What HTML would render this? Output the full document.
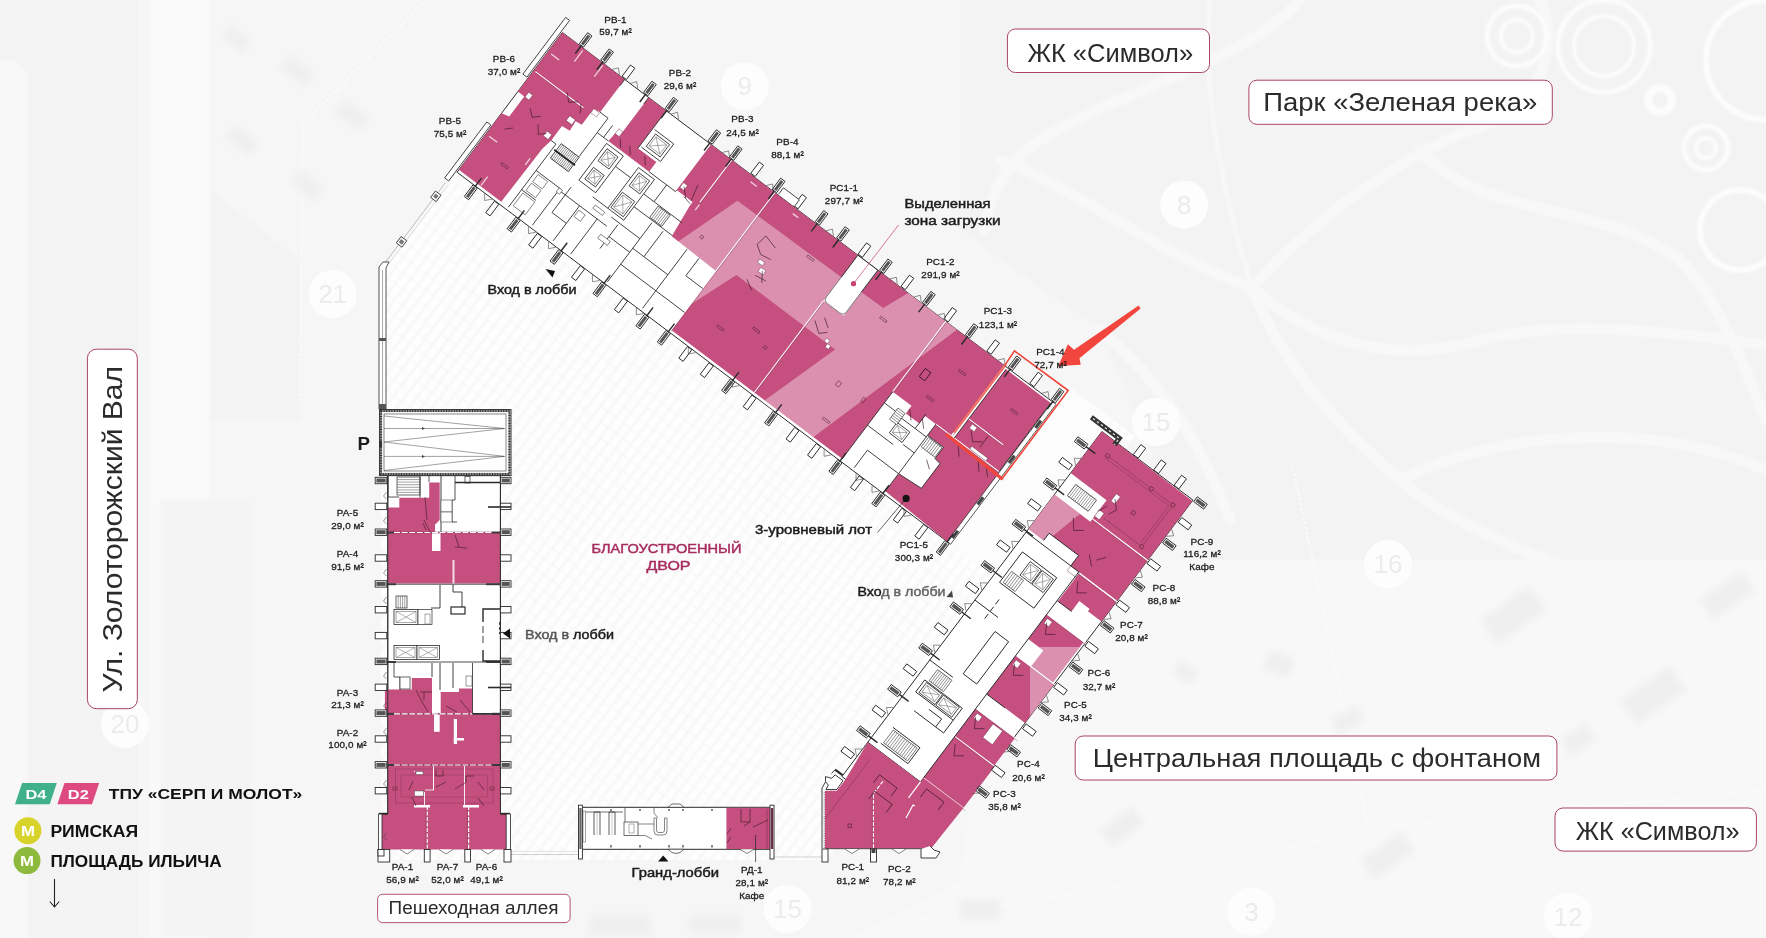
<!DOCTYPE html>
<html lang="ru"><head><meta charset="utf-8"><title>План</title>
<style>
html,body{margin:0;padding:0;background:#f5f5f5;}
body{width:1766px;height:938px;overflow:hidden;font-family:"Liberation Sans",sans-serif;}
svg{display:block}
text{font-family:"Liberation Sans",sans-serif;}
.u{font-size:9.9px;letter-spacing:0.1px;font-weight:400;fill:#1d1d1d;stroke:#1d1d1d;stroke-width:0.3px;text-anchor:middle}
.m{font-size:12.8px;font-weight:400;fill:#1c1c1c;stroke:#1c1c1c;stroke-width:0.45px}
.big{font-size:25.5px;fill:#2b2b2b}
</style></head><body>
<svg width="1766" height="938" viewBox="0 0 1766 938">
<defs>
<pattern id="hatch" width="13" height="13" patternUnits="userSpaceOnUse" patternTransform="rotate(37)"><rect width="13" height="13" fill="#fefefe"/><rect y="0" width="13" height="3" fill="#fbfbfb"/></pattern>
<pattern id="hatch2" width="9.5" height="9.5" patternUnits="userSpaceOnUse" patternTransform="rotate(-53)"><rect y="0" width="9.5" height="3.5" fill="#f8f8f8" fill-opacity="0.8"/></pattern>
<filter id="bl" x="-20%" y="-20%" width="140%" height="140%"><feGaussianBlur stdDeviation="3"/></filter>
<filter id="bl2" x="-20%" y="-20%" width="140%" height="140%"><feGaussianBlur stdDeviation="1.2"/></filter>
<clipPath id="c3"><rect x="1030" y="647" width="200" height="200"/></clipPath>
</defs>
<rect x="0.0" y="0.0" width="1766.0" height="938.0" fill="#f5f5f5" stroke="none" stroke-width="0" />
<rect x="0.0" y="0.0" width="138.0" height="938.0" fill="#f3f3f3" stroke="none" stroke-width="0" />
<rect x="138.0" y="0.0" width="1628.0" height="938.0" fill="#f6f6f6" stroke="none" stroke-width="0" />
<g filter="url(#bl2)">
<rect x="-20" y="60" width="48" height="900" rx="22" fill="#f8f8f8"/>
<rect x="42" y="-20" width="70" height="980" fill="#f4f4f4"/>
<rect x="150" y="-20" width="60" height="980" fill="#f9f9f9"/>
<polygon points="210.0,190.0 300.0,260.0 300.0,420.0 210.0,420.0" fill="#f3f3f3" stroke="none" stroke-width="0" />
<polygon points="160.0,500.0 250.0,500.0 250.0,938.0 160.0,938.0" fill="#f4f4f4" stroke="none" stroke-width="0" />
<polygon points="960.0,0.0 1766.0,0.0 1766.0,700.0 1300.0,700.0 1180.0,520.0 1100.0,330.0 960.0,230.0" fill="#f3f3f3" stroke="none" stroke-width="0" />
<polygon points="1000.0,560.0 1766.0,560.0 1766.0,938.0 850.0,938.0 960.0,880.0" fill="#f8f8f8" stroke="none" stroke-width="0" />
</g>
<g fill="none" stroke="#f8f8f8" stroke-linecap="round" filter="url(#bl2)">
<path d="M1000,160 C1080,190 1150,250 1252,288" stroke-width="11"/>
<path d="M1252,288 C1330,200 1430,140 1500,120 C1540,100 1560,40 1540,0" stroke-width="11"/>
<path d="M1252,288 C1300,330 1380,370 1480,340 C1560,320 1660,330 1766,345" stroke-width="11"/>
<path d="M1252,288 C1280,360 1330,420 1400,480 C1470,540 1560,560 1640,600" stroke-width="11"/>
<path d="M1300,0 C1250,60 1120,90 1040,140 C1010,160 990,190 985,230" stroke-width="11"/>
<path d="M1210,0 C1200,90 1225,200 1252,288" stroke-width="5" stroke-dasharray="1 4"/>
<path d="M1420,150 C1480,220 1600,200 1680,260 C1720,300 1750,380 1766,420" stroke-width="11"/>
<path d="M1400,480 C1500,430 1650,420 1766,470" stroke-width="11"/>
<path d="M1100,330 C1160,380 1200,440 1230,520" stroke-width="11"/>
</g>
<g fill="none" stroke="#fbfbfb" stroke-width="2.2" stroke-dasharray="1 4" stroke-linecap="round">
<path d="M1293,469 L1330,640 L1368,829 L1500,815 L1766,790"/>
<path d="M1368,829 L1100,890 L883,925"/>
<path d="M426,0 L303,124 L300,400"/>
</g>
<g fill="none" stroke="#fcfcfc" filter="url(#bl2)">
<circle cx="1517" cy="36" r="30" stroke-width="5"/>
<circle cx="1517" cy="36" r="16" stroke-width="4"/>
<circle cx="1604" cy="46" r="46" stroke-width="5"/>
<circle cx="1604" cy="46" r="30" stroke-width="4"/>
<circle cx="1706" cy="148" r="22" stroke-width="5"/>
<circle cx="1706" cy="148" r="10" stroke-width="4"/>
<circle cx="1740" cy="230" r="40" stroke-width="6"/>
<circle cx="1660" cy="100" r="12" stroke-width="8"/>
<circle cx="1766" cy="60" r="60" stroke-width="6"/>
</g>
<g fill="#efefef" filter="url(#bl)">
<rect x="230" y="25" width="26" height="14" transform="rotate(37 230 25)"/>
<rect x="290" y="55" width="30" height="16" transform="rotate(37 290 55)"/>
<rect x="345" y="100" width="30" height="16" transform="rotate(37 345 100)"/>
<rect x="235" y="125" width="30" height="16" transform="rotate(37 235 125)"/>
<rect x="300" y="170" width="30" height="16" transform="rotate(37 300 170)"/>
<rect x="1270" y="650" width="26" height="20" transform="rotate(20 1270 650)"/>
<rect x="1330" y="720" width="30" height="18" transform="rotate(-30 1330 720)"/>
<rect x="1180" y="660" width="22" height="16" transform="rotate(30 1180 660)"/>
<rect x="1480" y="620" width="60" height="30" transform="rotate(-35 1480 620)"/>
<rect x="1620" y="700" width="60" height="30" transform="rotate(-35 1620 700)"/>
<rect x="1360" y="860" width="50" height="24" transform="rotate(-35 1360 860)"/>
<rect x="1100" y="830" width="40" height="20" transform="rotate(-35 1100 830)"/>
<rect x="960" y="900" width="40" height="20" transform="rotate(0 960 900)"/>
<rect x="1560" y="740" width="30" height="20" transform="rotate(-35 1560 740)"/>
<rect x="1700" y="600" width="50" height="24" transform="rotate(-35 1700 600)"/>
<rect x="590" y="915" width="60" height="20" transform="rotate(0 590 915)"/>
<rect x="690" y="915" width="50" height="18" transform="rotate(0 690 915)"/>
</g>
<circle cx="744.7" cy="86.2" r="24" fill="#fdfdfd"/>
<text x="744.7" y="95.2" text-anchor="middle" style="font-size:26px;fill:#ececec">9</text>
<circle cx="1184.2" cy="204.7" r="24" fill="#fdfdfd"/>
<text x="1184.2" y="213.7" text-anchor="middle" style="font-size:26px;fill:#ececec">8</text>
<circle cx="332.6" cy="294.2" r="24" fill="#fdfdfd"/>
<text x="332.6" y="303.2" text-anchor="middle" style="font-size:26px;fill:#ececec">21</text>
<circle cx="1156.0" cy="422.0" r="24" fill="#fdfdfd"/>
<text x="1156.0" y="431.0" text-anchor="middle" style="font-size:26px;fill:#ececec">15</text>
<circle cx="1388.0" cy="564.0" r="24" fill="#fdfdfd"/>
<text x="1388.0" y="573.0" text-anchor="middle" style="font-size:26px;fill:#ececec">16</text>
<circle cx="125.0" cy="724.0" r="24" fill="#fdfdfd"/>
<text x="125.0" y="733.0" text-anchor="middle" style="font-size:26px;fill:#ececec">20</text>
<circle cx="787.5" cy="909.0" r="24" fill="#fdfdfd"/>
<text x="787.5" y="918.0" text-anchor="middle" style="font-size:26px;fill:#ececec">15</text>
<circle cx="1251.5" cy="911.5" r="24" fill="#fdfdfd"/>
<text x="1251.5" y="920.5" text-anchor="middle" style="font-size:26px;fill:#ececec">3</text>
<circle cx="1568.0" cy="916.5" r="24" fill="#fdfdfd"/>
<text x="1568.0" y="925.5" text-anchor="middle" style="font-size:26px;fill:#ececec">12</text>
<polygon points="454.1,171.3 384.3,263.9 381.0,270.0 381.0,860.0 828.0,860.0 856.6,805.2 1134.7,436.2 1064.4,383.2 1015.1,448.7 526.3,80.4" fill="url(#hatch)" stroke="none" stroke-width="0" />
<polygon points="454.1,171.3 384.3,263.9 381.0,270.0 381.0,860.0 828.0,860.0 856.6,805.2 1134.7,436.2 1064.4,383.2 1015.1,448.7 526.3,80.4" fill="url(#hatch2)" stroke="none" stroke-width="0" />
<polygon points="1066.8,385.0 1111.5,418.7 992.4,576.9 947.6,543.2" fill="#fcfcfc" stroke="none" stroke-width="0" />
<g transform="translate(562.4,32.5) rotate(37)">
<line x1="-3.0" y1="190.0" x2="-3.0" y2="292.0" stroke="#999" stroke-width="0.6" />
<line x1="0.5" y1="190.0" x2="0.5" y2="288.0" stroke="#bbb" stroke-width="0.5" />
<rect x="-6.0" y="203.0" width="7.0" height="8.0" fill="#fff" stroke="#2a2a2a" stroke-width="0.8" />
<rect x="-4.5" y="205.0" width="4.0" height="4.0" fill="#777" stroke="none" stroke-width="0" />
<rect x="-6.0" y="260.0" width="7.0" height="8.0" fill="#fff" stroke="#2a2a2a" stroke-width="0.8" />
<rect x="-4.5" y="262.0" width="4.0" height="4.0" fill="#777" stroke="none" stroke-width="0" />
</g>
<polygon points="379.0,267.0 383.0,262.0 389.0,262.0 386.0,268.0 386.0,409.0 379.0,409.0" fill="#fff" stroke="#2a2a2a" stroke-width="0.8" />
<line x1="382.5" y1="270.0" x2="382.5" y2="409.0" stroke="#555" stroke-width="0.5" />
<rect x="379.0" y="338.0" width="7.0" height="3.0" fill="#555" stroke="none" stroke-width="0" />
<rect x="379.0" y="404.0" width="7.0" height="5.0" fill="#555" stroke="none" stroke-width="0" />
<line x1="511.0" y1="854.5" x2="578.0" y2="854.5" stroke="#cfcfcf" stroke-width="1.2" />
<line x1="774.0" y1="857.0" x2="824.0" y2="857.0" stroke="#cfcfcf" stroke-width="1.2" />
<line x1="511.0" y1="851.5" x2="578.0" y2="851.5" stroke="#e4e4e4" stroke-width="1" />
<rect x="379.5" y="409.5" width="131.5" height="66.0" fill="#fff" stroke="#333" stroke-width="1" />
<rect x="381.0" y="411.0" width="128.5" height="63.0" fill="none" stroke="#8a8a8a" stroke-width="2.2" />
<rect x="381.0" y="411.0" width="128.5" height="63.0" fill="none" stroke="#333" stroke-width="2.2" stroke-dasharray="1 1.6"/>
<rect x="384.0" y="414.0" width="122.0" height="57.0" fill="#fff" stroke="#333" stroke-width="0.6" />
<polyline points="384.0,416.0 504.5,428.5 384.0,442.0 504.5,456.4 384.0,470.5" fill="none" stroke="#444" stroke-width="0.5" />
<line x1="384.0" y1="428.5" x2="504.5" y2="428.5" stroke="#444" stroke-width="0.5" />
<line x1="384.0" y1="456.4" x2="504.5" y2="456.4" stroke="#444" stroke-width="0.5" />
<polygon points="422.0,427.0 425.0,428.5 422.0,430.0" fill="#444" stroke="none" stroke-width="0" />
<polygon points="422.0,455.0 425.0,456.4 422.0,458.0" fill="#444" stroke="none" stroke-width="0" />
<rect x="379.0" y="441.0" width="3.0" height="6.0" fill="#333" stroke="none" stroke-width="0" />
<rect x="387.8" y="475.7" width="112.6" height="338.1" fill="#fff" stroke="#2a2a2a" stroke-width="0.9" />
<polygon points="399.3,497.8 429.2,497.8 429.2,482.4 439.7,482.4 439.7,520.0 435.0,524.8 435.0,532.5 387.8,532.5 387.8,507.4 399.3,507.4" fill="#c5507f" stroke="none" stroke-width="0" />
<polygon points="387.8,532.5 500.4,532.5 500.4,583.5 387.8,583.5" fill="#c5507f" stroke="none" stroke-width="0" />
<polygon points="384.9,689.5 411.8,689.5 411.8,677.9 432.0,677.9 432.0,713.5 384.9,713.5" fill="#c5507f" stroke="none" stroke-width="0" />
<polygon points="440.7,692.0 459.0,692.0 459.0,688.5 472.5,688.5 472.5,713.5 440.7,713.5" fill="#c5507f" stroke="none" stroke-width="0" />
<polygon points="387.8,713.5 500.4,713.5 500.4,813.8 506.2,813.8 506.2,849.5 382.0,849.5 382.0,813.8 387.8,813.8" fill="#c5507f" stroke="none" stroke-width="0" />
<rect x="432.0" y="533.0" width="8.5" height="18.0" fill="#fff" stroke="none" stroke-width="0" />
<rect x="434.0" y="694.0" width="5.7" height="37.8" fill="#fff" stroke="none" stroke-width="0" />
<rect x="453.8" y="719.0" width="3.2" height="25.0" fill="#fff" stroke="none" stroke-width="0" />
<rect x="452.5" y="560.0" width="2.0" height="26.0" fill="#f3dbe5" stroke="none" stroke-width="0" />
<rect x="453.8" y="738.0" width="10.2" height="2.5" fill="#fff" stroke="none" stroke-width="0" />
<line x1="375.0" y1="532.5" x2="394.0" y2="532.5" stroke="#3a3a3a" stroke-width="2.0" />
<line x1="492.0" y1="532.5" x2="511.0" y2="532.5" stroke="#3a3a3a" stroke-width="2.0" />
<line x1="394.0" y1="532.5" x2="492.0" y2="532.5" stroke="#8c3458" stroke-width="1.6" />
<line x1="394" y1="532.5" x2="492" y2="532.5" stroke="#fff" stroke-width="1.2" stroke-dasharray="6 1.6"/>
<line x1="375.0" y1="584.2" x2="396.0" y2="584.2" stroke="#3a3a3a" stroke-width="2.0" />
<line x1="486.0" y1="584.2" x2="511.0" y2="584.2" stroke="#3a3a3a" stroke-width="2.0" />
<line x1="396.0" y1="584.2" x2="486.0" y2="584.2" stroke="#3a3a3a" stroke-width="0.9" />
<line x1="375.0" y1="662.0" x2="396.0" y2="662.0" stroke="#3a3a3a" stroke-width="2.0" />
<line x1="486.0" y1="662.0" x2="511.0" y2="662.0" stroke="#3a3a3a" stroke-width="2.0" />
<line x1="396.0" y1="662.0" x2="486.0" y2="662.0" stroke="#3a3a3a" stroke-width="0.9" />
<line x1="375.0" y1="713.8" x2="394.0" y2="713.8" stroke="#3a3a3a" stroke-width="2.0" />
<line x1="492.0" y1="713.8" x2="511.0" y2="713.8" stroke="#3a3a3a" stroke-width="2.0" />
<line x1="394.0" y1="713.8" x2="492.0" y2="713.8" stroke="#8c3458" stroke-width="1.6" />
<line x1="394" y1="713.8" x2="492" y2="713.8" stroke="#fff" stroke-width="1.2" stroke-dasharray="6 1.6"/>
<line x1="375.0" y1="765.0" x2="394.0" y2="765.0" stroke="#3a3a3a" stroke-width="2.0" />
<line x1="492.0" y1="765.0" x2="511.0" y2="765.0" stroke="#3a3a3a" stroke-width="2.0" />
<line x1="394.0" y1="765.0" x2="492.0" y2="765.0" stroke="#8c3458" stroke-width="1.6" />
<line x1="394" y1="765.0" x2="492" y2="765.0" stroke="#fff" stroke-width="1.2" stroke-dasharray="6 1.6"/>
<line x1="472.5" y1="713.8" x2="500.0" y2="713.8" stroke="#3a3a3a" stroke-width="1.6" />
<line x1="387.8" y1="475.7" x2="387.8" y2="813.8" stroke="#2a2a2a" stroke-width="0.9" />
<line x1="500.4" y1="475.7" x2="500.4" y2="813.8" stroke="#2a2a2a" stroke-width="0.9" />
<rect x="375.2" y="477.3" width="11.6" height="6.4" fill="#fff" stroke="#2a2a2a" stroke-width="0.9" />
<rect x="376.4" y="478.5" width="9.2" height="4.0" fill="#555" stroke="none" stroke-width="0" />
<rect x="500.4" y="477.3" width="10.6" height="6.4" fill="#fff" stroke="#2a2a2a" stroke-width="0.9" />
<rect x="501.6" y="478.5" width="8.2" height="4.0" fill="#555" stroke="none" stroke-width="0" />
<rect x="375.2" y="503.2" width="11.6" height="6.4" fill="#fff" stroke="#2a2a2a" stroke-width="0.9" />
<rect x="500.4" y="503.2" width="10.6" height="6.4" fill="#fff" stroke="#2a2a2a" stroke-width="0.9" />
<rect x="375.2" y="529.0" width="11.6" height="6.4" fill="#fff" stroke="#2a2a2a" stroke-width="0.9" />
<rect x="376.4" y="530.2" width="9.2" height="4.0" fill="#555" stroke="none" stroke-width="0" />
<rect x="500.4" y="529.0" width="10.6" height="6.4" fill="#fff" stroke="#2a2a2a" stroke-width="0.9" />
<rect x="501.6" y="530.2" width="8.2" height="4.0" fill="#555" stroke="none" stroke-width="0" />
<rect x="375.2" y="554.8" width="11.6" height="6.4" fill="#fff" stroke="#2a2a2a" stroke-width="0.9" />
<rect x="500.4" y="554.8" width="10.6" height="6.4" fill="#fff" stroke="#2a2a2a" stroke-width="0.9" />
<rect x="375.2" y="580.7" width="11.6" height="6.4" fill="#fff" stroke="#2a2a2a" stroke-width="0.9" />
<rect x="376.4" y="581.9" width="9.2" height="4.0" fill="#555" stroke="none" stroke-width="0" />
<rect x="500.4" y="580.7" width="10.6" height="6.4" fill="#fff" stroke="#2a2a2a" stroke-width="0.9" />
<rect x="501.6" y="581.9" width="8.2" height="4.0" fill="#555" stroke="none" stroke-width="0" />
<rect x="375.2" y="606.5" width="11.6" height="6.4" fill="#fff" stroke="#2a2a2a" stroke-width="0.9" />
<rect x="500.4" y="606.5" width="10.6" height="6.4" fill="#fff" stroke="#2a2a2a" stroke-width="0.9" />
<rect x="375.2" y="632.4" width="11.6" height="6.4" fill="#fff" stroke="#2a2a2a" stroke-width="0.9" />
<rect x="500.4" y="632.4" width="10.6" height="6.4" fill="#fff" stroke="#2a2a2a" stroke-width="0.9" />
<rect x="375.2" y="658.2" width="11.6" height="6.4" fill="#fff" stroke="#2a2a2a" stroke-width="0.9" />
<rect x="376.4" y="659.5" width="9.2" height="4.0" fill="#555" stroke="none" stroke-width="0" />
<rect x="500.4" y="658.2" width="10.6" height="6.4" fill="#fff" stroke="#2a2a2a" stroke-width="0.9" />
<rect x="501.6" y="659.5" width="8.2" height="4.0" fill="#555" stroke="none" stroke-width="0" />
<rect x="375.2" y="684.1" width="11.6" height="6.4" fill="#fff" stroke="#2a2a2a" stroke-width="0.9" />
<rect x="500.4" y="684.1" width="10.6" height="6.4" fill="#fff" stroke="#2a2a2a" stroke-width="0.9" />
<rect x="375.2" y="709.9" width="11.6" height="6.4" fill="#fff" stroke="#2a2a2a" stroke-width="0.9" />
<rect x="376.4" y="711.1" width="9.2" height="4.0" fill="#555" stroke="none" stroke-width="0" />
<rect x="500.4" y="709.9" width="10.6" height="6.4" fill="#fff" stroke="#2a2a2a" stroke-width="0.9" />
<rect x="501.6" y="711.1" width="8.2" height="4.0" fill="#555" stroke="none" stroke-width="0" />
<rect x="375.2" y="735.8" width="11.6" height="6.4" fill="#fff" stroke="#2a2a2a" stroke-width="0.9" />
<rect x="500.4" y="735.8" width="10.6" height="6.4" fill="#fff" stroke="#2a2a2a" stroke-width="0.9" />
<rect x="375.2" y="761.6" width="11.6" height="6.4" fill="#fff" stroke="#2a2a2a" stroke-width="0.9" />
<rect x="376.4" y="762.9" width="9.2" height="4.0" fill="#555" stroke="none" stroke-width="0" />
<rect x="500.4" y="761.6" width="10.6" height="6.4" fill="#fff" stroke="#2a2a2a" stroke-width="0.9" />
<rect x="501.6" y="762.9" width="8.2" height="4.0" fill="#555" stroke="none" stroke-width="0" />
<rect x="375.2" y="787.5" width="11.6" height="6.4" fill="#fff" stroke="#2a2a2a" stroke-width="0.9" />
<rect x="500.4" y="787.5" width="10.6" height="6.4" fill="#fff" stroke="#2a2a2a" stroke-width="0.9" />
<polyline points="379.0,813.8 387.8,813.8" fill="none" stroke="#2a2a2a" stroke-width="2" />
<polyline points="500.4,813.8 510.0,813.8" fill="none" stroke="#2a2a2a" stroke-width="2" />
<rect x="378.5" y="814.0" width="3.5" height="37.0" fill="#fff" stroke="#2a2a2a" stroke-width="0.8" />
<rect x="506.2" y="814.0" width="4.3" height="37.0" fill="#fff" stroke="#2a2a2a" stroke-width="0.8" />
<rect x="378.0" y="849.5" width="11.7" height="12.5" fill="#fff" stroke="#2a2a2a" stroke-width="0.9" />
<rect x="424.3" y="849.5" width="5.8" height="12.5" fill="#fff" stroke="#2a2a2a" stroke-width="0.9" />
<rect x="464.8" y="849.5" width="5.7" height="12.5" fill="#fff" stroke="#2a2a2a" stroke-width="0.9" />
<rect x="504.0" y="849.5" width="7.0" height="12.5" fill="#fff" stroke="#2a2a2a" stroke-width="0.9" />
<rect x="378.0" y="849.5" width="6.0" height="6.5" fill="#fff" stroke="#2a2a2a" stroke-width="0.9" />
<line x1="427.2" y1="806.0" x2="427.2" y2="849.0" stroke="#fff" stroke-width="1.2" stroke-dasharray="4 1.5"/>
<line x1="426.0" y1="806.0" x2="426.0" y2="849.0" stroke="#7a2f4f" stroke-width="0.4" />
<line x1="468.6" y1="806.0" x2="468.6" y2="849.0" stroke="#fff" stroke-width="1.2" stroke-dasharray="4 1.5"/>
<line x1="467.4" y1="806.0" x2="467.4" y2="849.0" stroke="#7a2f4f" stroke-width="0.4" />
<rect x="414.0" y="805.0" width="16.0" height="2.5" fill="#fff" stroke="none" stroke-width="0" />
<rect x="463.0" y="805.0" width="16.0" height="2.5" fill="#fff" stroke="none" stroke-width="0" />
<rect x="414.0" y="771.0" width="1.0" height="1.0" fill="#fff" stroke="none" stroke-width="0" />
<rect x="395.5" y="769.0" width="97.5" height="34.0" fill="none" stroke="#8c3458" stroke-width="0.5" />
<rect x="401.0" y="775.0" width="86.5" height="22.0" fill="none" stroke="#8c3458" stroke-width="0.4" />
<rect x="414.5" y="791.0" width="9.0" height="5.0" fill="#fff" stroke="#555" stroke-width="0.5" />
<rect x="416.0" y="771.5" width="7.0" height="3.0" fill="#fff" stroke="#555" stroke-width="0.5" />
<line x1="433.5" y1="766.0" x2="433.5" y2="790.0" stroke="#fff" stroke-width="1.0" />
<line x1="425.0" y1="790.0" x2="433.5" y2="790.0" stroke="#fff" stroke-width="0.8" />
<line x1="424.5" y1="792.0" x2="424.5" y2="806.0" stroke="#fff" stroke-width="0.9" />
<line x1="464.5" y1="766.0" x2="464.5" y2="806.0" stroke="#fff" stroke-width="0.9" />
<polyline points="400.0,849.5 407.0,854.0 414.0,849.5" fill="#fff" stroke="#333" stroke-width="0.6" />
<polyline points="439.0,849.5 446.0,854.0 453.0,849.5" fill="#fff" stroke="#333" stroke-width="0.6" />
<polyline points="481.0,849.5 488.0,854.0 495.0,849.5" fill="#fff" stroke="#333" stroke-width="0.6" />
<rect x="394.0" y="609.5" width="24.0" height="15.0" fill="#fff" stroke="#2a2a2a" stroke-width="0.8" />
<rect x="396.0" y="611.5" width="20.0" height="11.0" fill="#fff" stroke="#555" stroke-width="0.5" />
<line x1="396.0" y1="611.5" x2="416.0" y2="622.5" stroke="#666" stroke-width="0.5" />
<line x1="396.0" y1="622.5" x2="416.0" y2="611.5" stroke="#666" stroke-width="0.5" />
<rect x="418.0" y="609.5" width="14.0" height="15.0" fill="#fff" stroke="#2a2a2a" stroke-width="0.7" />
<rect x="425.0" y="614.0" width="5.0" height="10.0" fill="none" stroke="#555" stroke-width="0.5" />
<rect x="396.0" y="596.0" width="11.0" height="12.0" fill="#fff" stroke="#2a2a2a" stroke-width="0.7" />
<line x1="398.2" y1="596.0" x2="398.2" y2="608.0" stroke="#444" stroke-width="0.5" />
<line x1="400.4" y1="596.0" x2="400.4" y2="608.0" stroke="#444" stroke-width="0.5" />
<line x1="402.6" y1="596.0" x2="402.6" y2="608.0" stroke="#444" stroke-width="0.5" />
<line x1="404.8" y1="596.0" x2="404.8" y2="608.0" stroke="#444" stroke-width="0.5" />
<polyline points="440.0,585.0 440.0,608.0 431.0,608.0" fill="none" stroke="#2a2a2a" stroke-width="0.9" />
<polyline points="453.0,585.0 453.0,592.0 462.0,592.0 462.0,608.0" fill="none" stroke="#2a2a2a" stroke-width="0.9" />
<rect x="451.0" y="607.0" width="14.0" height="7.0" fill="#fff" stroke="#2a2a2a" stroke-width="1.2" />
<polyline points="500.0,609.0 483.0,609.0 483.0,622.0" fill="none" stroke="#2a2a2a" stroke-width="1.4" />
<polyline points="483.0,650.0 483.0,661.0 500.0,661.0" fill="none" stroke="#2a2a2a" stroke-width="1.4" />
<line x1="483.0" y1="626.0" x2="483.0" y2="646.0" stroke="#2a2a2a" stroke-width="0.9" stroke-dasharray="7 3"/>
<line x1="499.5" y1="622.0" x2="499.5" y2="634.0" stroke="#2a2a2a" stroke-width="0.8" stroke-dasharray="3 2"/>
<rect x="394.0" y="645.5" width="23.0" height="14.0" fill="#fff" stroke="#2a2a2a" stroke-width="0.8" />
<rect x="396.0" y="647.5" width="19.0" height="10.0" fill="#fff" stroke="#555" stroke-width="0.5" />
<line x1="396.0" y1="647.5" x2="415.0" y2="657.5" stroke="#666" stroke-width="0.5" />
<line x1="396.0" y1="657.5" x2="415.0" y2="647.5" stroke="#666" stroke-width="0.5" />
<rect x="417.0" y="645.5" width="22.5" height="14.0" fill="#fff" stroke="#2a2a2a" stroke-width="0.8" />
<rect x="419.0" y="647.5" width="18.5" height="10.0" fill="#fff" stroke="#555" stroke-width="0.5" />
<line x1="419.0" y1="647.5" x2="437.5" y2="657.5" stroke="#666" stroke-width="0.5" />
<line x1="419.0" y1="657.5" x2="437.5" y2="647.5" stroke="#666" stroke-width="0.5" />
<polyline points="394.0,662.0 394.0,677.0 400.0,677.0 400.0,690.0" fill="none" stroke="#2a2a2a" stroke-width="0.8" />
<rect x="400.0" y="677.0" width="10.0" height="12.0" fill="#fff" stroke="#2a2a2a" stroke-width="0.7" />
<polyline points="432.0,663.0 432.0,677.0" fill="none" stroke="#2a2a2a" stroke-width="0.9" />
<polyline points="440.0,663.0 440.0,690.0" fill="none" stroke="#2a2a2a" stroke-width="0.9" />
<polyline points="453.0,663.0 453.0,688.0" fill="none" stroke="#2a2a2a" stroke-width="0.9" />
<polyline points="472.5,663.0 472.5,714.0 500.0,714.0" fill="none" stroke="#2a2a2a" stroke-width="0.8" />
<rect x="466.0" y="676.0" width="6.0" height="10.0" fill="#fff" stroke="#555" stroke-width="0.6" />
<line x1="488.0" y1="687.5" x2="511.0" y2="687.5" stroke="#2a2a2a" stroke-width="1.6" />
<rect x="397.0" y="477.0" width="23.0" height="18.0" fill="#fff" stroke="#2a2a2a" stroke-width="0.7" />
<line x1="397.0" y1="479.6" x2="420.0" y2="479.6" stroke="#444" stroke-width="0.5" />
<line x1="397.0" y1="482.1" x2="420.0" y2="482.1" stroke="#444" stroke-width="0.5" />
<line x1="397.0" y1="484.7" x2="420.0" y2="484.7" stroke="#444" stroke-width="0.5" />
<line x1="397.0" y1="487.3" x2="420.0" y2="487.3" stroke="#444" stroke-width="0.5" />
<line x1="397.0" y1="489.9" x2="420.0" y2="489.9" stroke="#444" stroke-width="0.5" />
<line x1="397.0" y1="492.4" x2="420.0" y2="492.4" stroke="#444" stroke-width="0.5" />
<polyline points="388.0,476.0 388.0,497.0 399.0,497.0" fill="none" stroke="#2a2a2a" stroke-width="0.8" />
<polyline points="420.0,476.0 420.0,497.8" fill="none" stroke="#2a2a2a" stroke-width="0.8" />
<polyline points="429.0,476.0 429.0,482.0" fill="none" stroke="#2a2a2a" stroke-width="0.8" />
<polyline points="441.0,476.0 441.0,532.0" fill="none" stroke="#2a2a2a" stroke-width="0.9" />
<polyline points="455.0,476.0 455.0,500.0 452.0,500.0 452.0,522.0 457.0,522.0" fill="none" stroke="#2a2a2a" stroke-width="0.8" />
<rect x="465.0" y="476.5" width="5.0" height="6.5" fill="#fff" stroke="#2a2a2a" stroke-width="0.7" />
<polyline points="455.0,482.5 500.0,482.5" fill="none" stroke="#2a2a2a" stroke-width="1.4" />
<rect x="441.0" y="500.0" width="11.0" height="12.0" fill="#fff" stroke="#444" stroke-width="0.6" />
<rect x="441.0" y="512.0" width="11.0" height="10.0" fill="#fff" stroke="#444" stroke-width="0.6" />
<line x1="488.0" y1="507.0" x2="511.0" y2="507.0" stroke="#2a2a2a" stroke-width="1.6" />
<polyline points="386.5,492.0 383.5,496.0 386.5,499.0" fill="none" stroke="#333" stroke-width="0.5" />
<polyline points="386.5,517.0 383.5,521.0 386.5,524.0" fill="none" stroke="#333" stroke-width="0.5" />
<polyline points="386.5,569.0 383.5,573.0 386.5,576.0" fill="none" stroke="#333" stroke-width="0.5" />
<polyline points="386.5,597.0 383.5,601.0 386.5,604.0" fill="none" stroke="#333" stroke-width="0.5" />
<polyline points="386.5,672.0 383.5,676.0 386.5,679.0" fill="none" stroke="#333" stroke-width="0.5" />
<polyline points="386.5,702.0 383.5,706.0 386.5,709.0" fill="none" stroke="#333" stroke-width="0.5" />
<polyline points="386.5,728.0 383.5,732.0 386.5,735.0" fill="none" stroke="#333" stroke-width="0.5" />
<polyline points="386.5,780.0 383.5,784.0 386.5,787.0" fill="none" stroke="#333" stroke-width="0.5" />
<polyline points="386.5,833.0 383.5,837.0 386.5,840.0" fill="none" stroke="#333" stroke-width="0.5" />
<line x1="425.0" y1="497.0" x2="427.0" y2="520.0" stroke="#3a1626" stroke-width="0.6" />
<line x1="424.0" y1="520.0" x2="430.0" y2="532.0" stroke="#3a1626" stroke-width="0.6" />
<line x1="455.0" y1="535.0" x2="459.0" y2="547.0" stroke="#3a1626" stroke-width="0.6" />
<line x1="455.0" y1="547.0" x2="467.0" y2="548.0" stroke="#3a1626" stroke-width="0.6" />
<line x1="423.0" y1="523.0" x2="426.0" y2="530.0" stroke="#3a1626" stroke-width="0.6" />
<line x1="416.0" y1="690.0" x2="421.0" y2="700.0" stroke="#3a1626" stroke-width="0.6" />
<line x1="421.0" y1="700.0" x2="428.0" y2="712.0" stroke="#3a1626" stroke-width="0.6" />
<line x1="446.0" y1="706.0" x2="457.0" y2="712.0" stroke="#3a1626" stroke-width="0.6" />
<line x1="460.0" y1="700.0" x2="470.0" y2="712.0" stroke="#3a1626" stroke-width="0.6" />
<line x1="420.0" y1="692.0" x2="432.0" y2="692.0" stroke="#3a1626" stroke-width="0.6" />
<line x1="424.0" y1="692.0" x2="424.0" y2="700.0" stroke="#3a1626" stroke-width="0.6" />
<line x1="413.0" y1="781.0" x2="409.0" y2="790.0" stroke="#3a1626" stroke-width="0.6" />
<line x1="412.0" y1="797.0" x2="416.0" y2="806.0" stroke="#3a1626" stroke-width="0.6" />
<line x1="446.0" y1="782.0" x2="436.0" y2="787.0" stroke="#3a1626" stroke-width="0.6" />
<line x1="465.0" y1="783.0" x2="455.0" y2="789.0" stroke="#3a1626" stroke-width="0.6" />
<line x1="478.0" y1="782.0" x2="484.0" y2="790.0" stroke="#3a1626" stroke-width="0.6" />
<line x1="478.0" y1="798.0" x2="484.0" y2="806.0" stroke="#3a1626" stroke-width="0.6" />
<line x1="436.0" y1="776.0" x2="436.0" y2="770.0" stroke="#3a1626" stroke-width="0.6" />
<line x1="436.0" y1="776.0" x2="443.0" y2="776.0" stroke="#3a1626" stroke-width="0.6" />
<line x1="443.0" y1="770.0" x2="443.0" y2="776.0" stroke="#3a1626" stroke-width="0.6" />
<line x1="466.0" y1="776.0" x2="466.0" y2="783.0" stroke="#3a1626" stroke-width="0.6" />
<line x1="466.0" y1="776.0" x2="474.0" y2="776.0" stroke="#3a1626" stroke-width="0.6" />
<rect x="393.0" y="787.0" width="4.0" height="3.0" fill="none" stroke="#5a2038" stroke-width="0.5" />
<rect x="490.0" y="787.0" width="4.0" height="3.0" fill="none" stroke="#5a2038" stroke-width="0.5" />
<rect x="580.5" y="807.3" width="191.5" height="42.0" fill="#fff" stroke="#2a2a2a" stroke-width="1.0" />
<rect x="726.4" y="807.8" width="44.6" height="41.2" fill="#c5507f" stroke="none" stroke-width="0" />
<rect x="578.5" y="805.2" width="3.9" height="53.8" fill="#fff" stroke="#2a2a2a" stroke-width="0.9" />
<rect x="770.0" y="805.2" width="4.0" height="53.8" fill="#fff" stroke="#2a2a2a" stroke-width="0.9" />
<rect x="579.3" y="808.0" width="2.3" height="41.0" fill="#666" stroke="none" stroke-width="0" />
<rect x="770.8" y="808.0" width="2.4" height="41.0" fill="#6b3048" stroke="none" stroke-width="0" />
<rect x="583.0" y="811.0" width="2.5" height="31.0" fill="#fff" stroke="#444" stroke-width="0.5" />
<polyline points="594.0,835.0 594.0,812.0 600.0,812.0 600.0,835.0" fill="none" stroke="#333" stroke-width="0.8" />
<line x1="597.0" y1="812.0" x2="597.0" y2="835.0" stroke="#777" stroke-width="0.4" />
<polyline points="609.0,835.0 609.0,812.0 615.0,812.0 615.0,835.0" fill="none" stroke="#333" stroke-width="0.8" />
<line x1="612.0" y1="812.0" x2="612.0" y2="835.0" stroke="#777" stroke-width="0.4" />
<polyline points="585.5,812.0 623.0,812.0" fill="none" stroke="#333" stroke-width="0.7" />
<polyline points="625.0,808.0 625.0,835.0" fill="none" stroke="#333" stroke-width="0.7" />
<rect x="624.0" y="822.0" width="14.0" height="13.5" fill="#fff" stroke="#333" stroke-width="0.7" />
<rect x="629.0" y="824.0" width="5.0" height="9.0" fill="none" stroke="#666" stroke-width="0.5" />
<polyline points="638.0,824.0 654.0,824.0" fill="none" stroke="#333" stroke-width="0.6" />
<polyline points="638.0,835.5 645.0,835.5 652.0,839.0" fill="none" stroke="#333" stroke-width="0.6" />
<polyline points="654.0,808.0 654.0,813.0 658.0,818.0" fill="none" stroke="#333" stroke-width="0.6" />
<path d="M654,818 v13 q0,4 4,4 h5 q4,0 4,-4 v-13 h-2.5 v12 q0,2.5 -2,2.5 h-4 q-2,0 -2,-2.5 v-12 z" fill="#fff" stroke="#333" stroke-width="0.6"/>
<polygon points="668.0,807.3 672.0,804.0 680.0,804.0 684.0,807.3" fill="#fff" stroke="#333" stroke-width="0.7" />
<polygon points="668.0,849.3 672.0,852.5 676.0,853.5 680.0,852.5 684.0,849.3" fill="#fff" stroke="#333" stroke-width="0.7" />
<rect x="610.0" y="809.0" width="2.0" height="2.0" fill="#888" stroke="none" stroke-width="0" />
<rect x="610.0" y="845.0" width="2.0" height="2.5" fill="#888" stroke="none" stroke-width="0" />
<rect x="639.0" y="809.0" width="2.0" height="2.0" fill="#888" stroke="none" stroke-width="0" />
<rect x="639.0" y="845.0" width="2.0" height="2.5" fill="#888" stroke="none" stroke-width="0" />
<rect x="668.0" y="809.0" width="2.0" height="2.0" fill="#888" stroke="none" stroke-width="0" />
<rect x="668.0" y="845.0" width="2.0" height="2.5" fill="#888" stroke="none" stroke-width="0" />
<rect x="682.0" y="809.0" width="2.0" height="2.0" fill="#888" stroke="none" stroke-width="0" />
<rect x="682.0" y="845.0" width="2.0" height="2.5" fill="#888" stroke="none" stroke-width="0" />
<rect x="711.0" y="809.0" width="2.0" height="2.0" fill="#888" stroke="none" stroke-width="0" />
<rect x="711.0" y="845.0" width="2.0" height="2.5" fill="#888" stroke="none" stroke-width="0" />
<polyline points="741.0,809.0 741.0,822.0 750.0,822.0 750.0,809.0" fill="none" stroke="#3a1626" stroke-width="0.6" />
<polyline points="744.0,826.0 750.0,822.0" fill="none" stroke="#3a1626" stroke-width="0.6" />
<polyline points="753.0,827.0 768.0,820.0" fill="none" stroke="#3a1626" stroke-width="0.6" />
<line x1="767.0" y1="809.0" x2="767.0" y2="849.0" stroke="#6b2443" stroke-width="0.5" />
<polyline points="727.0,834.0 731.0,828.0" fill="none" stroke="#3a1626" stroke-width="0.6" />
<polyline points="727.0,843.0 731.0,837.0" fill="none" stroke="#3a1626" stroke-width="0.6" />
<polyline points="740.0,849.3 747.0,853.5 754.0,849.3" fill="#fff" stroke="#333" stroke-width="0.6" />
<line x1="755.6" y1="835.0" x2="755.6" y2="862.0" stroke="#222" stroke-width="0.7" />
<polygon points="658.0,861.5 663.2,855.5 668.4,861.5" fill="#111" stroke="none" stroke-width="0" />
<g transform="translate(562.4,32.5) rotate(37)">
<rect x="-6.5" y="-14.0" width="5.0" height="71.0" fill="#fff" stroke="#2a2a2a" stroke-width="0.8" />
<rect x="-6.5" y="117.0" width="5.0" height="70.0" fill="#fff" stroke="#2a2a2a" stroke-width="0.8" />
<rect x="0.0" y="0.0" width="615.0" height="175.0" fill="#fff" stroke="#2a2a2a" stroke-width="0.9" />
<polygon points="0.0,0.0 78.0,0.0 78.0,41.0 71.0,42.0 71.0,62.0 64.0,63.0 65.0,74.0 56.0,75.0 56.0,93.0 54.0,105.0 53.0,172.0 0.0,172.0 0.0,101.0 8.0,99.0 8.0,74.0 0.0,74.0" fill="#c5507f" stroke="none" stroke-width="0" />
<polygon points="108.0,0.0 130.0,0.0 130.0,47.0 153.0,47.0 153.0,59.0 102.0,59.0 103.0,48.0 108.0,48.0" fill="#c5507f" stroke="none" stroke-width="0" />
<polygon points="186.0,0.0 370.0,0.0 370.0,57.0 395.0,57.0 395.0,0.0 553.0,0.0 553.0,88.0 480.0,88.0 480.0,172.0 266.0,172.0 266.0,98.0 210.0,97.0 206.0,62.0 206.0,57.0 186.0,57.0" fill="#c5507f" stroke="none" stroke-width="0" />
<polygon points="557.0,2.0 613.0,2.0 613.0,88.0 557.0,88.0" fill="#c5507f" stroke="none" stroke-width="0" />
<polygon points="503.5,86.0 520.5,86.0 520.5,97.5 503.5,97.5" fill="#c5507f" stroke="none" stroke-width="0" />
<polygon points="534.0,88.0 616.0,88.0 614.0,175.0 534.0,172.0 534.0,150.0 561.0,148.0 561.0,117.0 554.0,116.0 554.0,102.0 534.0,102.0" fill="#c5507f" stroke="none" stroke-width="0" />
<path d="M370,0 H395 V52 q0,5 -5,5 H375 q-5,0 -5,-5 Z" fill="#fff" stroke="#2a2a2a" stroke-width="0.9"/>
<polygon points="241.0,29.0 422.0,27.0 433.0,0.0 494.0,0.0 444.0,172.0 382.0,175.0 408.5,89.0 285.0,89.0 266.0,140.0 266.0,98.0 218.0,98.0 219.0,95.0" fill="#fff" stroke="none" stroke-width="0" fill-opacity="0.37"/>
<line x1="2.0" y1="47.5" x2="62.0" y2="47.5" stroke="#fff" stroke-width="1.1" />
<line x1="2.9" y1="48.4" x2="62.9" y2="48.4" stroke="#7a2f4f" stroke-width="0.35" />
<line x1="212.0" y1="0.0" x2="212.0" y2="53.0" stroke="#fff" stroke-width="1.1" />
<line x1="212.9" y1="0.9" x2="212.9" y2="53.9" stroke="#7a2f4f" stroke-width="0.35" />
<line x1="266.0" y1="0.0" x2="266.0" y2="172.0" stroke="#fff" stroke-width="1.1" />
<line x1="266.9" y1="0.9" x2="266.9" y2="172.9" stroke="#7a2f4f" stroke-width="0.35" />
<line x1="370.0" y1="57.0" x2="370.0" y2="172.0" stroke="#fff" stroke-width="1.1" />
<line x1="370.9" y1="57.9" x2="370.9" y2="172.9" stroke="#7a2f4f" stroke-width="0.35" />
<line x1="480.0" y1="0.0" x2="480.0" y2="88.0" stroke="#fff" stroke-width="1.1" />
<line x1="480.9" y1="0.9" x2="480.9" y2="88.9" stroke="#7a2f4f" stroke-width="0.35" />
<line x1="553.5" y1="0.0" x2="553.5" y2="88.0" stroke="#fff" stroke-width="1.1" />
<line x1="554.4" y1="0.9" x2="554.4" y2="88.9" stroke="#7a2f4f" stroke-width="0.35" />
<line x1="557.0" y1="64.0" x2="600.0" y2="64.0" stroke="#fff" stroke-width="1.1" />
<line x1="557.9" y1="64.9" x2="600.9" y2="64.9" stroke="#7a2f4f" stroke-width="0.35" />
<line x1="534.0" y1="88.0" x2="613.0" y2="88.0" stroke="#fff" stroke-width="1.1" />
<line x1="534.9" y1="88.9" x2="613.9" y2="88.9" stroke="#7a2f4f" stroke-width="0.35" />
<line x1="27.0" y1="2.0" x2="27.0" y2="16.0" stroke="#f1d3df" stroke-width="1.3" />
<line x1="52.0" y1="2.0" x2="52.0" y2="16.0" stroke="#f1d3df" stroke-width="1.3" />
<line x1="4.0" y1="24.0" x2="14.0" y2="24.0" stroke="#f1d3df" stroke-width="1.3" />
<line x1="4.0" y1="127.0" x2="14.0" y2="127.0" stroke="#f1d3df" stroke-width="1.3" />
<line x1="27.0" y1="160.0" x2="27.0" y2="171.0" stroke="#f1d3df" stroke-width="1.3" />
<line x1="50.0" y1="120.0" x2="50.0" y2="128.0" stroke="#f1d3df" stroke-width="1.3" />
<line x1="213.0" y1="55.0" x2="213.0" y2="62.0" stroke="#f1d3df" stroke-width="1.3" />
<line x1="293.0" y1="6.0" x2="300.0" y2="6.0" stroke="#f1d3df" stroke-width="1.3" />
<line x1="240.0" y1="6.0" x2="248.0" y2="6.0" stroke="#f1d3df" stroke-width="1.3" />
<rect x="71.0" y="42.0" width="7.0" height="5.0" fill="#fff" stroke="#5a2038" stroke-width="0.4" />
<rect x="56.0" y="62.0" width="7.0" height="6.0" fill="#fff" stroke="#5a2038" stroke-width="0.4" />
<rect x="9.0" y="68.0" width="5.0" height="6.0" fill="#fff" stroke="#5a2038" stroke-width="0.4" />
<rect x="47.0" y="88.0" width="6.0" height="6.0" fill="#fff" stroke="#5a2038" stroke-width="0.4" />
<rect x="103.0" y="43.0" width="5.0" height="6.0" fill="#fff" stroke="#5a2038" stroke-width="0.4" />
<rect x="187.0" y="47.0" width="5.0" height="6.0" fill="#fff" stroke="#5a2038" stroke-width="0.4" />
<rect x="294.0" y="62.0" width="6.0" height="4.0" fill="#fff" stroke="#5a2038" stroke-width="0.4" />
<rect x="300.0" y="68.0" width="6.0" height="5.0" fill="#fff" stroke="#5a2038" stroke-width="0.4" />
<rect x="395.0" y="85.0" width="4.0" height="4.0" fill="#fff" stroke="#5a2038" stroke-width="0.4" />
<rect x="399.0" y="89.0" width="4.0" height="4.0" fill="#fff" stroke="#5a2038" stroke-width="0.4" />
<rect x="498.0" y="104.0" width="5.0" height="5.0" fill="#fff" stroke="#5a2038" stroke-width="0.4" />
<rect x="563.0" y="66.0" width="6.0" height="5.0" fill="#fff" stroke="#5a2038" stroke-width="0.4" />
<rect x="576.0" y="84.0" width="20.0" height="3.5" fill="#fff" stroke="#5a2038" stroke-width="0.4" />
<line x1="40.0" y1="45.0" x2="47.0" y2="52.0" stroke="#3a1626" stroke-width="0.6" />
<line x1="47.0" y1="52.0" x2="54.0" y2="46.0" stroke="#3a1626" stroke-width="0.6" />
<line x1="58.0" y1="46.0" x2="63.0" y2="54.0" stroke="#3a1626" stroke-width="0.6" />
<line x1="20.0" y1="80.0" x2="27.0" y2="86.0" stroke="#3a1626" stroke-width="0.6" />
<line x1="27.0" y1="86.0" x2="33.0" y2="80.0" stroke="#3a1626" stroke-width="0.6" />
<line x1="36.0" y1="88.0" x2="42.0" y2="96.0" stroke="#3a1626" stroke-width="0.6" />
<line x1="42.0" y1="96.0" x2="48.0" y2="90.0" stroke="#3a1626" stroke-width="0.6" />
<line x1="12.0" y1="112.0" x2="18.0" y2="106.0" stroke="#3a1626" stroke-width="0.6" />
<line x1="110.0" y1="50.0" x2="116.0" y2="57.0" stroke="#3a1626" stroke-width="0.6" />
<line x1="122.0" y1="50.0" x2="128.0" y2="57.0" stroke="#3a1626" stroke-width="0.6" />
<line x1="140.0" y1="49.0" x2="146.0" y2="56.0" stroke="#3a1626" stroke-width="0.6" />
<line x1="190.0" y1="50.0" x2="198.0" y2="58.0" stroke="#3a1626" stroke-width="0.6" />
<line x1="200.0" y1="40.0" x2="204.0" y2="57.0" stroke="#3a1626" stroke-width="0.6" />
<line x1="196.0" y1="58.0" x2="205.0" y2="60.0" stroke="#3a1626" stroke-width="0.6" />
<line x1="285.0" y1="40.0" x2="300.0" y2="44.0" stroke="#3a1626" stroke-width="0.6" />
<line x1="285.0" y1="40.0" x2="283.0" y2="52.0" stroke="#3a1626" stroke-width="0.6" />
<line x1="283.0" y1="52.0" x2="292.0" y2="58.0" stroke="#3a1626" stroke-width="0.6" />
<line x1="292.0" y1="58.0" x2="303.0" y2="56.0" stroke="#3a1626" stroke-width="0.6" />
<line x1="303.0" y1="70.0" x2="310.0" y2="80.0" stroke="#3a1626" stroke-width="0.6" />
<line x1="296.0" y1="86.0" x2="306.0" y2="92.0" stroke="#3a1626" stroke-width="0.6" />
<line x1="300.0" y1="78.0" x2="312.0" y2="76.0" stroke="#3a1626" stroke-width="0.6" />
<line x1="381.0" y1="70.0" x2="390.0" y2="76.0" stroke="#3a1626" stroke-width="0.6" />
<line x1="375.0" y1="78.0" x2="386.0" y2="86.0" stroke="#3a1626" stroke-width="0.6" />
<line x1="386.0" y1="86.0" x2="392.0" y2="80.0" stroke="#3a1626" stroke-width="0.6" />
<line x1="504.0" y1="92.0" x2="512.0" y2="100.0" stroke="#3a1626" stroke-width="0.6" />
<line x1="520.0" y1="92.0" x2="527.0" y2="99.0" stroke="#3a1626" stroke-width="0.6" />
<line x1="566.0" y1="72.0" x2="574.0" y2="80.0" stroke="#3a1626" stroke-width="0.6" />
<line x1="574.0" y1="80.0" x2="582.0" y2="74.0" stroke="#3a1626" stroke-width="0.6" />
<line x1="583.0" y1="66.0" x2="583.0" y2="80.0" stroke="#3a1626" stroke-width="0.6" />
<line x1="565.0" y1="92.0" x2="572.0" y2="100.0" stroke="#3a1626" stroke-width="0.6" />
<line x1="540.0" y1="108.0" x2="548.0" y2="114.0" stroke="#3a1626" stroke-width="0.6" />
<line x1="548.0" y1="122.0" x2="556.0" y2="128.0" stroke="#3a1626" stroke-width="0.6" />
<line x1="590.0" y1="92.0" x2="597.0" y2="100.0" stroke="#3a1626" stroke-width="0.6" />
<line x1="600.0" y1="92.0" x2="607.0" y2="99.0" stroke="#3a1626" stroke-width="0.6" />
<rect x="30.0" y="140.0" width="8.0" height="2.2" fill="none" stroke="#4a1a30" stroke-width="0.5" />
<rect x="233.0" y="78.0" width="3.0" height="3.0" fill="none" stroke="#4a1a30" stroke-width="0.5" />
<rect x="330.0" y="30.0" width="8.0" height="2.0" fill="none" stroke="#4a1a30" stroke-width="0.5" />
<rect x="330.0" y="120.0" width="8.0" height="2.0" fill="none" stroke="#4a1a30" stroke-width="0.5" />
<rect x="350.0" y="128.0" width="3.0" height="3.0" fill="none" stroke="#4a1a30" stroke-width="0.5" />
<rect x="300.0" y="140.0" width="8.0" height="2.0" fill="none" stroke="#4a1a30" stroke-width="0.5" />
<rect x="425.0" y="35.0" width="8.0" height="2.0" fill="none" stroke="#4a1a30" stroke-width="0.5" />
<rect x="430.0" y="112.0" width="4.0" height="5.0" fill="none" stroke="#4a1a30" stroke-width="0.5" />
<rect x="460.0" y="110.0" width="3.0" height="5.0" fill="none" stroke="#4a1a30" stroke-width="0.5" />
<rect x="440.0" y="150.0" width="8.0" height="2.0" fill="none" stroke="#4a1a30" stroke-width="0.5" />
<rect x="520.0" y="30.0" width="8.0" height="2.0" fill="none" stroke="#4a1a30" stroke-width="0.5" />
<rect x="510.0" y="70.0" width="8.0" height="2.0" fill="none" stroke="#4a1a30" stroke-width="0.5" />
<rect x="585.0" y="30.0" width="8.0" height="2.0" fill="none" stroke="#4a1a30" stroke-width="0.5" />
<rect x="492.0" y="50.0" width="7.0" height="10.0" fill="none" stroke="#2a1020" stroke-width="0.8" />
<polyline points="78.0,0.0 78.0,8.0" fill="none" stroke="#2a2a2a" stroke-width="0.8" />
<polyline points="108.0,0.0 108.0,8.0" fill="none" stroke="#2a2a2a" stroke-width="0.8" />
<polyline points="78.0,41.0 88.0,41.0 88.0,59.0 102.0,59.0" fill="none" stroke="#2a2a2a" stroke-width="0.8" />
<polyline points="56.0,93.0 62.0,93.0 62.0,172.0" fill="none" stroke="#2a2a2a" stroke-width="0.8" />
<polyline points="102.0,62.0 123.0,62.0 123.0,108.0 102.0,108.0 102.0,62.0" fill="none" stroke="#2a2a2a" stroke-width="0.8" />
<polyline points="142.0,62.0 162.0,62.0 162.0,113.0 142.0,113.0 142.0,62.0" fill="none" stroke="#2a2a2a" stroke-width="0.8" />
<polyline points="132.0,22.0 156.0,22.0 156.0,44.0 132.0,44.0" fill="none" stroke="#2a2a2a" stroke-width="0.8" />
<polyline points="130.0,0.0 130.0,47.0" fill="none" stroke="#2a2a2a" stroke-width="0.8" />
<polyline points="88.0,59.0 88.0,89.0" fill="none" stroke="#2a2a2a" stroke-width="0.8" />
<polyline points="96.0,44.0 96.0,59.0" fill="none" stroke="#2a2a2a" stroke-width="0.8" />
<polyline points="123.0,75.0 142.0,75.0" fill="none" stroke="#2a2a2a" stroke-width="0.8" />
<polyline points="123.0,113.0 142.0,113.0" fill="none" stroke="#2a2a2a" stroke-width="0.8" />
<polyline points="153.0,59.0 186.0,59.0 186.0,57.0" fill="none" stroke="#2a2a2a" stroke-width="0.8" />
<polyline points="175.0,59.0 175.0,80.0" fill="none" stroke="#2a2a2a" stroke-width="0.8" />
<polyline points="162.0,80.0 210.0,80.0" fill="none" stroke="#2a2a2a" stroke-width="0.8" />
<polyline points="162.0,96.0 210.0,96.0" fill="none" stroke="#2a2a2a" stroke-width="0.8" />
<polyline points="62.0,126.0 92.0,126.0 92.0,172.0" fill="none" stroke="#2a2a2a" stroke-width="0.8" />
<polyline points="62.0,150.0 80.0,150.0" fill="none" stroke="#2a2a2a" stroke-width="0.8" />
<polyline points="100.0,118.0 100.0,150.0 118.0,150.0" fill="none" stroke="#2a2a2a" stroke-width="0.8" />
<polyline points="118.0,128.0 118.0,172.0" fill="none" stroke="#2a2a2a" stroke-width="0.8" />
<polyline points="140.0,128.0 140.0,172.0" fill="none" stroke="#2a2a2a" stroke-width="0.8" />
<polyline points="92.0,128.0 152.0,128.0" fill="none" stroke="#2a2a2a" stroke-width="0.8" />
<polyline points="150.0,118.0 186.0,118.0" fill="none" stroke="#2a2a2a" stroke-width="0.8" />
<polyline points="186.0,98.0 186.0,172.0" fill="none" stroke="#2a2a2a" stroke-width="0.8" />
<polyline points="160.0,120.0 160.0,150.0" fill="none" stroke="#2a2a2a" stroke-width="0.8" />
<polyline points="160.0,135.0 186.0,135.0" fill="none" stroke="#2a2a2a" stroke-width="0.8" />
<polyline points="200.0,98.0 200.0,130.0" fill="none" stroke="#2a2a2a" stroke-width="0.8" />
<polyline points="186.0,130.0 230.0,130.0" fill="none" stroke="#2a2a2a" stroke-width="0.8" />
<polyline points="230.0,98.0 230.0,172.0" fill="none" stroke="#2a2a2a" stroke-width="0.8" />
<polyline points="245.0,98.0 245.0,120.0 266.0,120.0" fill="none" stroke="#2a2a2a" stroke-width="0.8" />
<polyline points="186.0,150.0 266.0,150.0" fill="none" stroke="#2a2a2a" stroke-width="0.8" />
<polyline points="480.0,88.0 480.0,172.0" fill="none" stroke="#2a2a2a" stroke-width="0.8" />
<polyline points="480.0,102.0 494.0,102.0" fill="none" stroke="#2a2a2a" stroke-width="0.8" />
<polyline points="502.0,104.0 534.0,104.0" fill="none" stroke="#2a2a2a" stroke-width="0.8" />
<polyline points="520.0,86.0 520.0,104.0" fill="none" stroke="#2a2a2a" stroke-width="0.8" />
<polyline points="480.0,130.0 512.0,130.0" fill="none" stroke="#2a2a2a" stroke-width="0.8" />
<polyline points="534.0,88.0 534.0,172.0" fill="none" stroke="#2a2a2a" stroke-width="0.8" />
<polyline points="520.0,124.0 534.0,124.0" fill="none" stroke="#2a2a2a" stroke-width="0.8" />
<polyline points="495.0,150.0 534.0,150.0" fill="none" stroke="#2a2a2a" stroke-width="0.8" />
<polyline points="495.0,150.0 495.0,172.0" fill="none" stroke="#2a2a2a" stroke-width="0.8" />
<polyline points="534.0,102.0 554.0,102.0 554.0,116.0 561.0,117.0 561.0,148.0 534.0,150.0" fill="none" stroke="#2a2a2a" stroke-width="0.8" />
<polyline points="613.0,2.0 613.0,88.0" fill="none" stroke="#2a2a2a" stroke-width="0.8" />
<polyline points="557.0,2.0 557.0,88.0" fill="none" stroke="#2a2a2a" stroke-width="0.8" />
<rect x="105.6" y="66.0" width="13.8" height="15.0" fill="#fff" stroke="#2a2a2a" stroke-width="0.8" />
<rect x="107.6" y="68.0" width="9.8" height="11.0" fill="#fff" stroke="#555" stroke-width="0.5" />
<line x1="107.6" y1="68.0" x2="117.4" y2="79.0" stroke="#666" stroke-width="0.5" />
<line x1="107.6" y1="79.0" x2="117.4" y2="68.0" stroke="#666" stroke-width="0.5" />
<rect x="106.0" y="89.0" width="13.4" height="14.5" fill="#fff" stroke="#2a2a2a" stroke-width="0.8" />
<rect x="108.0" y="91.0" width="9.4" height="10.5" fill="#fff" stroke="#555" stroke-width="0.5" />
<line x1="108.0" y1="91.0" x2="117.4" y2="101.5" stroke="#666" stroke-width="0.5" />
<line x1="108.0" y1="101.5" x2="117.4" y2="91.0" stroke="#666" stroke-width="0.5" />
<rect x="145.5" y="66.0" width="13.5" height="16.3" fill="#fff" stroke="#2a2a2a" stroke-width="0.8" />
<rect x="147.5" y="68.0" width="9.5" height="12.3" fill="#fff" stroke="#555" stroke-width="0.5" />
<line x1="147.5" y1="68.0" x2="157.0" y2="80.3" stroke="#666" stroke-width="0.5" />
<line x1="147.5" y1="80.3" x2="157.0" y2="68.0" stroke="#666" stroke-width="0.5" />
<rect x="144.0" y="91.5" width="15.5" height="19.0" fill="#fff" stroke="#2a2a2a" stroke-width="0.8" />
<rect x="146.0" y="93.5" width="11.5" height="15.0" fill="#fff" stroke="#555" stroke-width="0.5" />
<line x1="146.0" y1="93.5" x2="157.5" y2="108.5" stroke="#666" stroke-width="0.5" />
<line x1="146.0" y1="108.5" x2="157.5" y2="93.5" stroke="#666" stroke-width="0.5" />
<rect x="135.5" y="25.0" width="17.5" height="15.5" fill="#fff" stroke="#2a2a2a" stroke-width="0.8" />
<rect x="137.5" y="27.0" width="13.5" height="11.5" fill="#fff" stroke="#555" stroke-width="0.5" />
<line x1="137.5" y1="27.0" x2="151.0" y2="38.5" stroke="#666" stroke-width="0.5" />
<line x1="137.5" y1="38.5" x2="151.0" y2="27.0" stroke="#666" stroke-width="0.5" />
<rect x="502.0" y="110.0" width="16.0" height="13.0" fill="#fff" stroke="#2a2a2a" stroke-width="0.8" />
<rect x="504.0" y="112.0" width="12.0" height="9.0" fill="#fff" stroke="#555" stroke-width="0.5" />
<line x1="504.0" y1="112.0" x2="516.0" y2="121.0" stroke="#666" stroke-width="0.5" />
<line x1="504.0" y1="121.0" x2="516.0" y2="112.0" stroke="#666" stroke-width="0.5" />
<rect x="66.0" y="89.5" width="22.5" height="18.0" fill="#fff" stroke="#2a2a2a" stroke-width="0.8" />
<line x1="67.9" y1="89.5" x2="67.9" y2="107.5" stroke="#333" stroke-width="0.5" />
<line x1="69.8" y1="89.5" x2="69.8" y2="107.5" stroke="#333" stroke-width="0.5" />
<line x1="71.7" y1="89.5" x2="71.7" y2="107.5" stroke="#333" stroke-width="0.5" />
<line x1="73.6" y1="89.5" x2="73.6" y2="107.5" stroke="#333" stroke-width="0.5" />
<line x1="75.5" y1="89.5" x2="75.5" y2="107.5" stroke="#333" stroke-width="0.5" />
<line x1="77.4" y1="89.5" x2="77.4" y2="107.5" stroke="#333" stroke-width="0.5" />
<line x1="79.3" y1="89.5" x2="79.3" y2="107.5" stroke="#333" stroke-width="0.5" />
<line x1="81.2" y1="89.5" x2="81.2" y2="107.5" stroke="#333" stroke-width="0.5" />
<line x1="83.1" y1="89.5" x2="83.1" y2="107.5" stroke="#333" stroke-width="0.5" />
<line x1="85.0" y1="89.5" x2="85.0" y2="107.5" stroke="#333" stroke-width="0.5" />
<line x1="86.9" y1="89.5" x2="86.9" y2="107.5" stroke="#333" stroke-width="0.5" />
<line x1="64.0" y1="98.5" x2="90.0" y2="98.5" stroke="#222" stroke-width="1.8" />
<rect x="181.0" y="81.0" width="15.0" height="14.0" fill="#fff" stroke="#2a2a2a" stroke-width="0.7" />
<line x1="183.2" y1="81.0" x2="183.2" y2="95.0" stroke="#333" stroke-width="0.5" />
<line x1="185.4" y1="81.0" x2="185.4" y2="95.0" stroke="#333" stroke-width="0.5" />
<line x1="187.6" y1="81.0" x2="187.6" y2="95.0" stroke="#333" stroke-width="0.5" />
<line x1="189.8" y1="81.0" x2="189.8" y2="95.0" stroke="#333" stroke-width="0.5" />
<line x1="192.0" y1="81.0" x2="192.0" y2="95.0" stroke="#333" stroke-width="0.5" />
<line x1="194.2" y1="81.0" x2="194.2" y2="95.0" stroke="#333" stroke-width="0.5" />
<rect x="536.0" y="103.0" width="17.0" height="12.0" fill="#fff" stroke="#2a2a2a" stroke-width="0.6" />
<line x1="538.4" y1="103.0" x2="538.4" y2="115.0" stroke="#333" stroke-width="0.5" />
<line x1="540.8" y1="103.0" x2="540.8" y2="115.0" stroke="#333" stroke-width="0.5" />
<line x1="543.2" y1="103.0" x2="543.2" y2="115.0" stroke="#333" stroke-width="0.5" />
<line x1="545.6" y1="103.0" x2="545.6" y2="115.0" stroke="#333" stroke-width="0.5" />
<line x1="548.0" y1="103.0" x2="548.0" y2="115.0" stroke="#333" stroke-width="0.5" />
<line x1="550.4" y1="103.0" x2="550.4" y2="115.0" stroke="#333" stroke-width="0.5" />
<rect x="494.0" y="98.0" width="9.0" height="14.0" fill="#fff" stroke="#2a2a2a" stroke-width="0.6" />
<line x1="494.0" y1="100.3" x2="503.0" y2="100.3" stroke="#333" stroke-width="0.5" />
<line x1="494.0" y1="102.6" x2="503.0" y2="102.6" stroke="#333" stroke-width="0.5" />
<line x1="494.0" y1="104.9" x2="503.0" y2="104.9" stroke="#333" stroke-width="0.5" />
<line x1="494.0" y1="107.2" x2="503.0" y2="107.2" stroke="#333" stroke-width="0.5" />
<line x1="494.0" y1="109.5" x2="503.0" y2="109.5" stroke="#333" stroke-width="0.5" />
<rect x="66.0" y="128.0" width="12.0" height="9.0" fill="#fff" stroke="#444" stroke-width="0.6" />
<rect x="66.0" y="139.0" width="12.0" height="9.0" fill="#fff" stroke="#444" stroke-width="0.6" />
<rect x="65.0" y="152.0" width="15.0" height="16.0" fill="#fff" stroke="#444" stroke-width="0.6" />
<rect x="91.0" y="126.0" width="4.0" height="5.0" fill="#fff" stroke="#444" stroke-width="0.6" />
<rect x="120.0" y="132.0" width="8.0" height="8.0" fill="#fff" stroke="#444" stroke-width="0.6" />
<rect x="130.0" y="118.0" width="12.0" height="4.0" fill="#fff" stroke="#444" stroke-width="0.6" />
<rect x="152.0" y="138.0" width="12.0" height="5.0" fill="#fff" stroke="#444" stroke-width="0.6" />
<rect x="20.3" y="-15.0" width="5.4" height="14.0" fill="#fff" stroke="#2a2a2a" stroke-width="0.9" />
<rect x="21.5" y="-13.8" width="3.0" height="11.6" fill="#555" stroke="none" stroke-width="0" />
<rect x="20.3" y="175.5" width="5.4" height="14.5" fill="#fff" stroke="#2a2a2a" stroke-width="0.9" />
<rect x="21.5" y="176.7" width="3.0" height="12.1" fill="#555" stroke="none" stroke-width="0" />
<rect x="47.2" y="-15.0" width="5.4" height="14.0" fill="#fff" stroke="#2a2a2a" stroke-width="0.9" />
<rect x="48.4" y="-13.8" width="3.0" height="11.6" fill="#555" stroke="none" stroke-width="0" />
<rect x="47.2" y="175.5" width="5.4" height="14.5" fill="#fff" stroke="#2a2a2a" stroke-width="0.9" />
<rect x="74.0" y="-15.0" width="5.4" height="14.0" fill="#fff" stroke="#2a2a2a" stroke-width="0.9" />
<rect x="74.0" y="175.5" width="5.4" height="14.5" fill="#fff" stroke="#2a2a2a" stroke-width="0.9" />
<rect x="75.2" y="176.7" width="3.0" height="12.1" fill="#555" stroke="none" stroke-width="0" />
<rect x="100.9" y="-15.0" width="5.4" height="14.0" fill="#fff" stroke="#2a2a2a" stroke-width="0.9" />
<rect x="102.1" y="-13.8" width="3.0" height="11.6" fill="#555" stroke="none" stroke-width="0" />
<rect x="100.9" y="175.5" width="5.4" height="14.5" fill="#fff" stroke="#2a2a2a" stroke-width="0.9" />
<rect x="127.7" y="-15.0" width="5.4" height="14.0" fill="#fff" stroke="#2a2a2a" stroke-width="0.9" />
<rect x="128.9" y="-13.8" width="3.0" height="11.6" fill="#555" stroke="none" stroke-width="0" />
<rect x="127.7" y="175.5" width="5.4" height="14.5" fill="#fff" stroke="#2a2a2a" stroke-width="0.9" />
<rect x="128.9" y="176.7" width="3.0" height="12.1" fill="#555" stroke="none" stroke-width="0" />
<rect x="154.6" y="175.5" width="5.4" height="14.5" fill="#fff" stroke="#2a2a2a" stroke-width="0.9" />
<rect x="181.5" y="-15.0" width="5.4" height="14.0" fill="#fff" stroke="#2a2a2a" stroke-width="0.9" />
<rect x="182.7" y="-13.8" width="3.0" height="11.6" fill="#555" stroke="none" stroke-width="0" />
<rect x="181.5" y="175.5" width="5.4" height="14.5" fill="#fff" stroke="#2a2a2a" stroke-width="0.9" />
<rect x="182.7" y="176.7" width="3.0" height="12.1" fill="#555" stroke="none" stroke-width="0" />
<rect x="208.3" y="-15.0" width="5.4" height="14.0" fill="#fff" stroke="#2a2a2a" stroke-width="0.9" />
<rect x="209.5" y="-13.8" width="3.0" height="11.6" fill="#555" stroke="none" stroke-width="0" />
<rect x="208.3" y="175.5" width="5.4" height="14.5" fill="#fff" stroke="#2a2a2a" stroke-width="0.9" />
<rect x="235.2" y="-15.0" width="5.4" height="14.0" fill="#fff" stroke="#2a2a2a" stroke-width="0.9" />
<rect x="235.2" y="175.5" width="5.4" height="14.5" fill="#fff" stroke="#2a2a2a" stroke-width="0.9" />
<rect x="236.4" y="176.7" width="3.0" height="12.1" fill="#555" stroke="none" stroke-width="0" />
<rect x="262.0" y="-15.0" width="5.4" height="14.0" fill="#fff" stroke="#2a2a2a" stroke-width="0.9" />
<rect x="263.2" y="-13.8" width="3.0" height="11.6" fill="#555" stroke="none" stroke-width="0" />
<rect x="262.0" y="175.5" width="5.4" height="14.5" fill="#fff" stroke="#2a2a2a" stroke-width="0.9" />
<rect x="263.2" y="176.7" width="3.0" height="12.1" fill="#555" stroke="none" stroke-width="0" />
<rect x="288.9" y="-15.0" width="5.4" height="14.0" fill="#fff" stroke="#2a2a2a" stroke-width="0.9" />
<rect x="288.9" y="175.5" width="5.4" height="14.5" fill="#fff" stroke="#2a2a2a" stroke-width="0.9" />
<rect x="315.8" y="-15.0" width="5.4" height="14.0" fill="#fff" stroke="#2a2a2a" stroke-width="0.9" />
<rect x="317.0" y="-13.8" width="3.0" height="11.6" fill="#555" stroke="none" stroke-width="0" />
<rect x="315.8" y="175.5" width="5.4" height="14.5" fill="#fff" stroke="#2a2a2a" stroke-width="0.9" />
<rect x="342.6" y="-15.0" width="5.4" height="14.0" fill="#fff" stroke="#2a2a2a" stroke-width="0.9" />
<rect x="343.8" y="-13.8" width="3.0" height="11.6" fill="#555" stroke="none" stroke-width="0" />
<rect x="342.6" y="175.5" width="5.4" height="14.5" fill="#fff" stroke="#2a2a2a" stroke-width="0.9" />
<rect x="343.8" y="176.7" width="3.0" height="12.1" fill="#555" stroke="none" stroke-width="0" />
<rect x="369.5" y="-15.0" width="5.4" height="14.0" fill="#fff" stroke="#2a2a2a" stroke-width="0.9" />
<rect x="369.5" y="175.5" width="5.4" height="14.5" fill="#fff" stroke="#2a2a2a" stroke-width="0.9" />
<rect x="396.3" y="-15.0" width="5.4" height="14.0" fill="#fff" stroke="#2a2a2a" stroke-width="0.9" />
<rect x="397.5" y="-13.8" width="3.0" height="11.6" fill="#555" stroke="none" stroke-width="0" />
<rect x="396.3" y="175.5" width="5.4" height="14.5" fill="#fff" stroke="#2a2a2a" stroke-width="0.9" />
<rect x="397.5" y="176.7" width="3.0" height="12.1" fill="#555" stroke="none" stroke-width="0" />
<rect x="423.2" y="-15.0" width="5.4" height="14.0" fill="#fff" stroke="#2a2a2a" stroke-width="0.9" />
<rect x="423.2" y="175.5" width="5.4" height="14.5" fill="#fff" stroke="#2a2a2a" stroke-width="0.9" />
<rect x="450.1" y="-15.0" width="5.4" height="14.0" fill="#fff" stroke="#2a2a2a" stroke-width="0.9" />
<rect x="451.3" y="-13.8" width="3.0" height="11.6" fill="#555" stroke="none" stroke-width="0" />
<rect x="450.1" y="175.5" width="5.4" height="14.5" fill="#fff" stroke="#2a2a2a" stroke-width="0.9" />
<rect x="476.9" y="-15.0" width="5.4" height="14.0" fill="#fff" stroke="#2a2a2a" stroke-width="0.9" />
<rect x="476.9" y="175.5" width="5.4" height="14.5" fill="#fff" stroke="#2a2a2a" stroke-width="0.9" />
<rect x="478.1" y="176.7" width="3.0" height="12.1" fill="#555" stroke="none" stroke-width="0" />
<rect x="503.8" y="-15.0" width="5.4" height="14.0" fill="#fff" stroke="#2a2a2a" stroke-width="0.9" />
<rect x="505.0" y="-13.8" width="3.0" height="11.6" fill="#555" stroke="none" stroke-width="0" />
<rect x="503.8" y="175.5" width="5.4" height="14.5" fill="#fff" stroke="#2a2a2a" stroke-width="0.9" />
<rect x="530.6" y="-15.0" width="5.4" height="14.0" fill="#fff" stroke="#2a2a2a" stroke-width="0.9" />
<rect x="530.6" y="175.5" width="5.4" height="14.5" fill="#fff" stroke="#2a2a2a" stroke-width="0.9" />
<rect x="531.8" y="176.7" width="3.0" height="12.1" fill="#555" stroke="none" stroke-width="0" />
<rect x="557.5" y="-15.0" width="5.4" height="14.0" fill="#fff" stroke="#2a2a2a" stroke-width="0.9" />
<rect x="558.7" y="-13.8" width="3.0" height="11.6" fill="#555" stroke="none" stroke-width="0" />
<rect x="557.5" y="175.5" width="5.4" height="14.5" fill="#fff" stroke="#2a2a2a" stroke-width="0.9" />
<rect x="584.4" y="-15.0" width="5.4" height="14.0" fill="#fff" stroke="#2a2a2a" stroke-width="0.9" />
<rect x="584.4" y="175.5" width="5.4" height="14.5" fill="#fff" stroke="#2a2a2a" stroke-width="0.9" />
<rect x="611.2" y="-15.0" width="5.4" height="14.0" fill="#fff" stroke="#2a2a2a" stroke-width="0.9" />
<rect x="612.4" y="-13.8" width="3.0" height="11.6" fill="#555" stroke="none" stroke-width="0" />
<rect x="611.2" y="175.5" width="5.4" height="14.5" fill="#fff" stroke="#2a2a2a" stroke-width="0.9" />
<rect x="612.4" y="176.7" width="3.0" height="12.1" fill="#555" stroke="none" stroke-width="0" />
<rect x="613.5" y="0.0" width="4.5" height="175.0" fill="#fff" stroke="#2a2a2a" stroke-width="0.7" />
<rect x="614.2" y="22.0" width="3.1" height="9.0" fill="#444" stroke="none" stroke-width="0" />
<rect x="614.2" y="66.0" width="3.1" height="9.0" fill="#444" stroke="none" stroke-width="0" />
<rect x="614.2" y="118.0" width="3.1" height="9.0" fill="#444" stroke="none" stroke-width="0" />
<rect x="614.2" y="160.0" width="3.1" height="9.0" fill="#444" stroke="none" stroke-width="0" />
<line x1="23.0" y1="165.0" x2="23.0" y2="176.0" stroke="#2a2a2a" stroke-width="1.4" />
<line x1="23.0" y1="-1.0" x2="23.0" y2="9.0" stroke="#2a2a2a" stroke-width="1.4" />
<line x1="49.9" y1="-1.0" x2="49.9" y2="9.0" stroke="#2a2a2a" stroke-width="1.4" />
<line x1="76.7" y1="165.0" x2="76.7" y2="176.0" stroke="#2a2a2a" stroke-width="1.4" />
<line x1="103.6" y1="-1.0" x2="103.6" y2="9.0" stroke="#2a2a2a" stroke-width="1.4" />
<line x1="130.4" y1="165.0" x2="130.4" y2="176.0" stroke="#2a2a2a" stroke-width="1.4" />
<line x1="130.4" y1="-1.0" x2="130.4" y2="9.0" stroke="#2a2a2a" stroke-width="1.4" />
<line x1="184.2" y1="165.0" x2="184.2" y2="176.0" stroke="#2a2a2a" stroke-width="1.4" />
<line x1="184.2" y1="-1.0" x2="184.2" y2="9.0" stroke="#2a2a2a" stroke-width="1.4" />
<line x1="211.0" y1="-1.0" x2="211.0" y2="9.0" stroke="#2a2a2a" stroke-width="1.4" />
<line x1="237.9" y1="165.0" x2="237.9" y2="176.0" stroke="#2a2a2a" stroke-width="1.4" />
<line x1="264.7" y1="165.0" x2="264.7" y2="176.0" stroke="#2a2a2a" stroke-width="1.4" />
<line x1="264.7" y1="-1.0" x2="264.7" y2="9.0" stroke="#2a2a2a" stroke-width="1.4" />
<line x1="318.5" y1="-1.0" x2="318.5" y2="9.0" stroke="#2a2a2a" stroke-width="1.4" />
<line x1="345.3" y1="165.0" x2="345.3" y2="176.0" stroke="#2a2a2a" stroke-width="1.4" />
<line x1="345.3" y1="-1.0" x2="345.3" y2="9.0" stroke="#2a2a2a" stroke-width="1.4" />
<line x1="399.0" y1="165.0" x2="399.0" y2="176.0" stroke="#2a2a2a" stroke-width="1.4" />
<line x1="399.0" y1="-1.0" x2="399.0" y2="9.0" stroke="#2a2a2a" stroke-width="1.4" />
<line x1="452.8" y1="-1.0" x2="452.8" y2="9.0" stroke="#2a2a2a" stroke-width="1.4" />
<line x1="479.6" y1="165.0" x2="479.6" y2="176.0" stroke="#2a2a2a" stroke-width="1.4" />
<line x1="506.5" y1="-1.0" x2="506.5" y2="9.0" stroke="#2a2a2a" stroke-width="1.4" />
<line x1="533.3" y1="165.0" x2="533.3" y2="176.0" stroke="#2a2a2a" stroke-width="1.4" />
<line x1="560.2" y1="-1.0" x2="560.2" y2="9.0" stroke="#2a2a2a" stroke-width="1.4" />
<line x1="613.9" y1="165.0" x2="613.9" y2="176.0" stroke="#2a2a2a" stroke-width="1.4" />
<line x1="613.9" y1="-1.0" x2="613.9" y2="9.0" stroke="#2a2a2a" stroke-width="1.4" />
<polyline points="270.0,-1.0 270.0,-9.0 290.0,-9.0 290.0,-1.0" fill="#fff" stroke="#2a2a2a" stroke-width="0.8" />
<polyline points="62.0,-0.5 66.0,-5.5 71.0,-0.5" fill="none" stroke="#333" stroke-width="0.5" />
<polyline points="85.0,-0.5 89.0,-5.5 94.0,-0.5" fill="none" stroke="#333" stroke-width="0.5" />
<polyline points="136.0,-0.5 140.0,-5.5 145.0,-0.5" fill="none" stroke="#333" stroke-width="0.5" />
<polyline points="200.0,-0.5 204.0,-5.5 209.0,-0.5" fill="none" stroke="#333" stroke-width="0.5" />
<polyline points="255.0,-0.5 259.0,-5.5 264.0,-0.5" fill="none" stroke="#333" stroke-width="0.5" />
<polyline points="330.0,-0.5 334.0,-5.5 339.0,-0.5" fill="none" stroke="#333" stroke-width="0.5" />
<polyline points="410.0,-0.5 414.0,-5.5 419.0,-0.5" fill="none" stroke="#333" stroke-width="0.5" />
<polyline points="440.0,-0.5 444.0,-5.5 449.0,-0.5" fill="none" stroke="#333" stroke-width="0.5" />
<polyline points="470.0,-0.5 474.0,-5.5 479.0,-0.5" fill="none" stroke="#333" stroke-width="0.5" />
<polyline points="545.0,-0.5 549.0,-5.5 554.0,-0.5" fill="none" stroke="#333" stroke-width="0.5" />
<polyline points="600.0,-0.5 604.0,-5.5 609.0,-0.5" fill="none" stroke="#333" stroke-width="0.5" />
<polyline points="35.0,175.5 39.0,181.0 44.0,175.5" fill="none" stroke="#333" stroke-width="0.5" />
<polyline points="90.0,175.5 94.0,181.0 99.0,175.5" fill="none" stroke="#333" stroke-width="0.5" />
<polyline points="115.0,175.5 119.0,181.0 124.0,175.5" fill="none" stroke="#333" stroke-width="0.5" />
<polyline points="170.0,175.5 174.0,181.0 179.0,175.5" fill="none" stroke="#333" stroke-width="0.5" />
<polyline points="225.0,175.5 229.0,181.0 234.0,175.5" fill="none" stroke="#333" stroke-width="0.5" />
<polyline points="290.0,175.5 294.0,181.0 299.0,175.5" fill="none" stroke="#333" stroke-width="0.5" />
<polyline points="345.0,175.5 349.0,181.0 354.0,175.5" fill="none" stroke="#333" stroke-width="0.5" />
<polyline points="460.0,175.5 464.0,181.0 469.0,175.5" fill="none" stroke="#333" stroke-width="0.5" />
<polyline points="500.0,175.5 504.0,181.0 509.0,175.5" fill="none" stroke="#333" stroke-width="0.5" />
<polyline points="520.0,175.5 524.0,181.0 529.0,175.5" fill="none" stroke="#333" stroke-width="0.5" />
<polyline points="560.0,175.5 564.0,181.0 569.0,175.5" fill="none" stroke="#333" stroke-width="0.5" />
<rect x="671.0" y="-6.0" width="114.0" height="432.0" fill="#fff" stroke="#2a2a2a" stroke-width="0.9" />
<polygon points="671.0,-6.0 785.0,-5.0 785.0,69.0 716.0,69.0 716.0,46.0 671.0,46.0" fill="#c5507f" stroke="none" stroke-width="0" />
<polygon points="671.0,73.0 716.0,73.0 716.0,69.5 785.0,69.5 785.0,120.0 727.0,120.0 727.0,107.0 690.0,107.0 690.0,116.0 671.0,116.0" fill="#c5507f" stroke="none" stroke-width="0" />
<polygon points="738.0,121.0 785.0,121.0 785.0,146.0 768.0,146.0 768.0,143.0 755.0,143.0 755.0,156.0 738.0,156.0" fill="#c5507f" stroke="none" stroke-width="0" />
<polygon points="737.0,173.0 783.0,173.0 783.0,224.0 756.0,224.0 756.0,204.0 737.0,204.0" fill="#c5507f" stroke="none" stroke-width="0" />
<polygon points="737.0,225.0 785.0,225.0 785.0,273.0 737.0,273.0" fill="#c5507f" stroke="none" stroke-width="0" />
<polygon points="737.0,291.0 786.0,291.0 786.0,326.0 737.0,326.0" fill="#c5507f" stroke="none" stroke-width="0" />
<polygon points="737.0,326.0 787.0,326.0 787.0,378.0 737.0,378.0" fill="#c5507f" stroke="none" stroke-width="0" />
<polygon points="671.0,73.0 703.0,73.0 692.5,116.0 671.0,116.0" fill="#fff" stroke="none" stroke-width="0" fill-opacity="0.37"/>
<line x1="716.0" y1="69.5" x2="790.0" y2="69.5" stroke="#fff" stroke-width="1.1" />
<line x1="716.0" y1="70.4" x2="790.0" y2="70.4" stroke="#7a2f4f" stroke-width="0.35" />
<line x1="737.0" y1="121.0" x2="790.0" y2="121.0" stroke="#fff" stroke-width="1.1" />
<line x1="737.0" y1="121.9" x2="790.0" y2="121.9" stroke="#7a2f4f" stroke-width="0.35" />
<line x1="756.0" y1="224.5" x2="790.0" y2="224.5" stroke="#fff" stroke-width="1.1" />
<line x1="756.0" y1="225.4" x2="790.0" y2="225.4" stroke="#7a2f4f" stroke-width="0.35" />
<line x1="737.0" y1="326.0" x2="790.0" y2="326.0" stroke="#fff" stroke-width="1.1" />
<line x1="737.0" y1="326.9" x2="790.0" y2="326.9" stroke="#7a2f4f" stroke-width="0.35" />
<line x1="737.0" y1="378.0" x2="790.0" y2="378.0" stroke="#fff" stroke-width="1.1" />
<line x1="737.0" y1="378.9" x2="790.0" y2="378.9" stroke="#7a2f4f" stroke-width="0.35" />
<line x1="737.0" y1="173.0" x2="790.0" y2="173.0" stroke="#fff" stroke-width="1.1" />
<line x1="737.0" y1="173.9" x2="790.0" y2="173.9" stroke="#7a2f4f" stroke-width="0.35" />
<line x1="737.0" y1="291.0" x2="790.0" y2="291.0" stroke="#fff" stroke-width="1.1" />
<line x1="737.0" y1="291.9" x2="790.0" y2="291.9" stroke="#7a2f4f" stroke-width="0.35" />
<rect x="760.0" y="293.0" width="12.0" height="17.0" fill="#fff" stroke="#5a2038" stroke-width="0.4" />
<rect x="740.0" y="176.0" width="6.0" height="6.0" fill="#fff" stroke="#5a2038" stroke-width="0.4" />
<rect x="740.0" y="228.0" width="6.0" height="6.0" fill="#fff" stroke="#5a2038" stroke-width="0.4" />
<rect x="741.0" y="294.0" width="6.0" height="6.0" fill="#fff" stroke="#5a2038" stroke-width="0.4" />
<rect x="727.0" y="120.0" width="11.0" height="6.0" fill="#fff" stroke="#5a2038" stroke-width="0.4" />
<rect x="716.0" y="58.0" width="6.0" height="8.0" fill="#fff" stroke="#5a2038" stroke-width="0.4" />
<rect x="720.0" y="35.0" width="5.0" height="9.0" fill="#fff" stroke="#5a2038" stroke-width="0.4" />
<polyline points="690.0,10.0 772.0,10.0 772.0,62.0 725.0,62.0" fill="none" stroke="#7a2f4f" stroke-width="0.5" />
<polyline points="690.0,13.0 769.0,13.0 769.0,59.0" fill="none" stroke="#7a2f4f" stroke-width="0.4" />
<rect x="688.2" y="8.2" width="3.6" height="3.6" fill="#c5507f" stroke="#3a1626" stroke-width="0.5" />
<rect x="743.2" y="8.2" width="3.6" height="3.6" fill="#c5507f" stroke="#3a1626" stroke-width="0.5" />
<rect x="770.2" y="8.2" width="3.6" height="3.6" fill="#c5507f" stroke="#3a1626" stroke-width="0.5" />
<rect x="770.2" y="60.2" width="3.6" height="3.6" fill="#c5507f" stroke="#3a1626" stroke-width="0.5" />
<rect x="743.2" y="38.2" width="3.6" height="3.6" fill="#c5507f" stroke="#3a1626" stroke-width="0.5" />
<polyline points="654.0,-11.0 689.0,-11.0 689.0,-3.0" fill="none" stroke="#333" stroke-width="5" />
<polyline points="656.0,-11.0 689.0,-11.0 689.0,-3.0" fill="none" stroke="#ddd" stroke-width="1.2" stroke-dasharray="2.5 2.5"/>
<rect x="710.0" y="-19.0" width="6.0" height="12.5" fill="#fff" stroke="#2a2a2a" stroke-width="0.9" />
<rect x="735.5" y="-19.0" width="6.0" height="12.5" fill="#fff" stroke="#2a2a2a" stroke-width="0.9" />
<rect x="761.0" y="-19.0" width="6.0" height="12.5" fill="#fff" stroke="#2a2a2a" stroke-width="0.9" />
<rect x="682.0" y="52.0" width="26.0" height="14.0" fill="#fff" stroke="#2a2a2a" stroke-width="0.7" />
<line x1="684.4" y1="52.0" x2="684.4" y2="66.0" stroke="#444" stroke-width="0.5" />
<line x1="686.7" y1="52.0" x2="686.7" y2="66.0" stroke="#444" stroke-width="0.5" />
<line x1="689.1" y1="52.0" x2="689.1" y2="66.0" stroke="#444" stroke-width="0.5" />
<line x1="691.4" y1="52.0" x2="691.4" y2="66.0" stroke="#444" stroke-width="0.5" />
<line x1="693.8" y1="52.0" x2="693.8" y2="66.0" stroke="#444" stroke-width="0.5" />
<line x1="696.2" y1="52.0" x2="696.2" y2="66.0" stroke="#444" stroke-width="0.5" />
<line x1="698.5" y1="52.0" x2="698.5" y2="66.0" stroke="#444" stroke-width="0.5" />
<line x1="700.9" y1="52.0" x2="700.9" y2="66.0" stroke="#444" stroke-width="0.5" />
<line x1="703.2" y1="52.0" x2="703.2" y2="66.0" stroke="#444" stroke-width="0.5" />
<line x1="705.6" y1="52.0" x2="705.6" y2="66.0" stroke="#444" stroke-width="0.5" />
<line x1="722.0" y1="40.0" x2="730.0" y2="48.0" stroke="#3a1626" stroke-width="0.6" />
<line x1="730.0" y1="48.0" x2="726.0" y2="56.0" stroke="#3a1626" stroke-width="0.6" />
<line x1="720.0" y1="50.0" x2="716.0" y2="60.0" stroke="#3a1626" stroke-width="0.6" />
<line x1="700.0" y1="80.0" x2="708.0" y2="90.0" stroke="#3a1626" stroke-width="0.6" />
<line x1="708.0" y1="90.0" x2="716.0" y2="84.0" stroke="#3a1626" stroke-width="0.6" />
<line x1="735.0" y1="100.0" x2="744.0" y2="108.0" stroke="#3a1626" stroke-width="0.6" />
<line x1="744.0" y1="100.0" x2="750.0" y2="92.0" stroke="#3a1626" stroke-width="0.6" />
<line x1="742.0" y1="128.0" x2="748.0" y2="138.0" stroke="#3a1626" stroke-width="0.6" />
<line x1="748.0" y1="138.0" x2="756.0" y2="132.0" stroke="#3a1626" stroke-width="0.6" />
<line x1="742.0" y1="180.0" x2="748.0" y2="190.0" stroke="#3a1626" stroke-width="0.6" />
<line x1="748.0" y1="190.0" x2="756.0" y2="184.0" stroke="#3a1626" stroke-width="0.6" />
<line x1="741.0" y1="232.0" x2="747.0" y2="242.0" stroke="#3a1626" stroke-width="0.6" />
<line x1="747.0" y1="242.0" x2="755.0" y2="236.0" stroke="#3a1626" stroke-width="0.6" />
<line x1="742.0" y1="298.0" x2="748.0" y2="308.0" stroke="#3a1626" stroke-width="0.6" />
<line x1="748.0" y1="308.0" x2="756.0" y2="302.0" stroke="#3a1626" stroke-width="0.6" />
<line x1="742.0" y1="332.0" x2="748.0" y2="342.0" stroke="#3a1626" stroke-width="0.6" />
<line x1="748.0" y1="342.0" x2="756.0" y2="336.0" stroke="#3a1626" stroke-width="0.6" />
<line x1="700.0" y1="390.0" x2="708.0" y2="400.0" stroke="#3a1626" stroke-width="0.6" />
<line x1="708.0" y1="400.0" x2="716.0" y2="394.0" stroke="#3a1626" stroke-width="0.6" />
<line x1="720.0" y1="395.0" x2="728.0" y2="405.0" stroke="#3a1626" stroke-width="0.6" />
<polyline points="671.0,120.0 737.0,120.0" fill="none" stroke="#2a2a2a" stroke-width="0.9" />
<polyline points="737.0,120.0 737.0,426.0" fill="none" stroke="#2a2a2a" stroke-width="0.9" />
<polyline points="680.0,138.0 723.0,138.0 723.0,176.0 680.0,176.0 680.0,138.0" fill="none" stroke="#2a2a2a" stroke-width="0.9" />
<polyline points="671.0,205.0 700.0,205.0" fill="none" stroke="#2a2a2a" stroke-width="0.9" />
<polyline points="706.0,218.0 723.0,218.0 723.0,271.0 706.0,271.0 706.0,218.0" fill="none" stroke="#2a2a2a" stroke-width="0.9" />
<polyline points="671.0,280.0 700.0,280.0" fill="none" stroke="#2a2a2a" stroke-width="0.9" />
<polyline points="679.0,299.0 726.0,299.0 726.0,330.0 689.0,330.0" fill="none" stroke="#2a2a2a" stroke-width="0.9" />
<polyline points="679.0,299.0 679.0,314.0 726.0,314.0" fill="none" stroke="#2a2a2a" stroke-width="0.9" />
<polyline points="700.0,320.0 716.0,320.0 716.0,330.0" fill="none" stroke="#2a2a2a" stroke-width="0.9" />
<polyline points="682.0,356.0 716.0,356.0 716.0,376.0 682.0,376.0" fill="none" stroke="#2a2a2a" stroke-width="0.9" />
<polyline points="671.0,383.0 737.0,383.0" fill="none" stroke="#2a2a2a" stroke-width="0.9" />
<polyline points="737.0,156.0 755.0,156.0" fill="none" stroke="#2a2a2a" stroke-width="0.9" />
<polyline points="737.0,273.0 760.0,273.0" fill="none" stroke="#2a2a2a" stroke-width="0.9" />
<polyline points="690.0,107.0 727.0,107.0 727.0,120.0" fill="none" stroke="#2a2a2a" stroke-width="0.9" />
<polyline points="690.0,107.0 690.0,116.0" fill="none" stroke="#2a2a2a" stroke-width="0.9" />
<rect x="692.0" y="141.0" width="14.0" height="17.0" fill="#fff" stroke="#2a2a2a" stroke-width="0.8" />
<rect x="694.0" y="143.0" width="10.0" height="13.0" fill="#fff" stroke="#555" stroke-width="0.5" />
<line x1="694.0" y1="143.0" x2="704.0" y2="156.0" stroke="#666" stroke-width="0.5" />
<line x1="694.0" y1="156.0" x2="704.0" y2="143.0" stroke="#666" stroke-width="0.5" />
<rect x="707.0" y="141.0" width="14.0" height="17.0" fill="#fff" stroke="#2a2a2a" stroke-width="0.8" />
<rect x="709.0" y="143.0" width="10.0" height="13.0" fill="#fff" stroke="#555" stroke-width="0.5" />
<line x1="709.0" y1="143.0" x2="719.0" y2="156.0" stroke="#666" stroke-width="0.5" />
<line x1="709.0" y1="156.0" x2="719.0" y2="143.0" stroke="#666" stroke-width="0.5" />
<rect x="683.0" y="160.0" width="15.0" height="14.0" fill="#fff" stroke="#2a2a2a" stroke-width="0.6" />
<line x1="685.5" y1="160.0" x2="685.5" y2="174.0" stroke="#333" stroke-width="0.5" />
<line x1="688.0" y1="160.0" x2="688.0" y2="174.0" stroke="#333" stroke-width="0.5" />
<line x1="690.5" y1="160.0" x2="690.5" y2="174.0" stroke="#333" stroke-width="0.5" />
<line x1="693.0" y1="160.0" x2="693.0" y2="174.0" stroke="#333" stroke-width="0.5" />
<line x1="695.5" y1="160.0" x2="695.5" y2="174.0" stroke="#333" stroke-width="0.5" />
<rect x="682.0" y="300.0" width="20.0" height="12.5" fill="#fff" stroke="#2a2a2a" stroke-width="0.8" />
<rect x="684.0" y="302.0" width="16.0" height="8.5" fill="#fff" stroke="#555" stroke-width="0.5" />
<line x1="684.0" y1="302.0" x2="700.0" y2="310.5" stroke="#666" stroke-width="0.5" />
<line x1="684.0" y1="310.5" x2="700.0" y2="302.0" stroke="#666" stroke-width="0.5" />
<rect x="703.0" y="300.0" width="20.0" height="12.5" fill="#fff" stroke="#2a2a2a" stroke-width="0.8" />
<rect x="705.0" y="302.0" width="16.0" height="8.5" fill="#fff" stroke="#555" stroke-width="0.5" />
<line x1="705.0" y1="302.0" x2="721.0" y2="310.5" stroke="#666" stroke-width="0.5" />
<line x1="705.0" y1="310.5" x2="721.0" y2="302.0" stroke="#666" stroke-width="0.5" />
<rect x="683.0" y="283.0" width="18.0" height="14.0" fill="#fff" stroke="#2a2a2a" stroke-width="0.6" />
<line x1="685.2" y1="283.0" x2="685.2" y2="297.0" stroke="#333" stroke-width="0.5" />
<line x1="687.5" y1="283.0" x2="687.5" y2="297.0" stroke="#333" stroke-width="0.5" />
<line x1="689.8" y1="283.0" x2="689.8" y2="297.0" stroke="#333" stroke-width="0.5" />
<line x1="692.0" y1="283.0" x2="692.0" y2="297.0" stroke="#333" stroke-width="0.5" />
<line x1="694.2" y1="283.0" x2="694.2" y2="297.0" stroke="#333" stroke-width="0.5" />
<line x1="696.5" y1="283.0" x2="696.5" y2="297.0" stroke="#333" stroke-width="0.5" />
<line x1="698.8" y1="283.0" x2="698.8" y2="297.0" stroke="#333" stroke-width="0.5" />
<rect x="684.0" y="358.0" width="30.0" height="16.0" fill="#fff" stroke="#2a2a2a" stroke-width="0.6" />
<line x1="686.5" y1="358.0" x2="686.5" y2="374.0" stroke="#333" stroke-width="0.5" />
<line x1="689.0" y1="358.0" x2="689.0" y2="374.0" stroke="#333" stroke-width="0.5" />
<line x1="691.5" y1="358.0" x2="691.5" y2="374.0" stroke="#333" stroke-width="0.5" />
<line x1="694.0" y1="358.0" x2="694.0" y2="374.0" stroke="#333" stroke-width="0.5" />
<line x1="696.5" y1="358.0" x2="696.5" y2="374.0" stroke="#333" stroke-width="0.5" />
<line x1="699.0" y1="358.0" x2="699.0" y2="374.0" stroke="#333" stroke-width="0.5" />
<line x1="701.5" y1="358.0" x2="701.5" y2="374.0" stroke="#333" stroke-width="0.5" />
<line x1="704.0" y1="358.0" x2="704.0" y2="374.0" stroke="#333" stroke-width="0.5" />
<line x1="706.5" y1="358.0" x2="706.5" y2="374.0" stroke="#333" stroke-width="0.5" />
<line x1="709.0" y1="358.0" x2="709.0" y2="374.0" stroke="#333" stroke-width="0.5" />
<line x1="711.5" y1="358.0" x2="711.5" y2="374.0" stroke="#333" stroke-width="0.5" />
<line x1="690.0" y1="190.0" x2="690.0" y2="215.0" stroke="#2a2a2a" stroke-width="0.9" stroke-dasharray="6 3"/>
<line x1="667.0" y1="15.6" x2="679.0" y2="15.6" stroke="#2a2a2a" stroke-width="1.4" />
<line x1="667.0" y1="67.3" x2="679.0" y2="67.3" stroke="#2a2a2a" stroke-width="1.4" />
<line x1="667.0" y1="119.0" x2="679.0" y2="119.0" stroke="#2a2a2a" stroke-width="1.4" />
<line x1="667.0" y1="170.7" x2="679.0" y2="170.7" stroke="#2a2a2a" stroke-width="1.4" />
<line x1="667.0" y1="222.4" x2="679.0" y2="222.4" stroke="#2a2a2a" stroke-width="1.4" />
<line x1="667.0" y1="274.1" x2="679.0" y2="274.1" stroke="#2a2a2a" stroke-width="1.4" />
<line x1="667.0" y1="325.8" x2="679.0" y2="325.8" stroke="#2a2a2a" stroke-width="1.4" />
<line x1="667.0" y1="377.5" x2="679.0" y2="377.5" stroke="#2a2a2a" stroke-width="1.4" />
<rect x="786.5" y="-11.3" width="12.5" height="6.0" fill="#fff" stroke="#2a2a2a" stroke-width="0.9" />
<rect x="787.7" y="-10.1" width="10.1" height="3.6" fill="#555" stroke="none" stroke-width="0" />
<rect x="655.0" y="12.6" width="12.5" height="6.0" fill="#fff" stroke="#2a2a2a" stroke-width="0.9" />
<rect x="656.2" y="13.8" width="10.1" height="3.6" fill="#555" stroke="none" stroke-width="0" />
<rect x="786.5" y="14.6" width="12.5" height="6.0" fill="#fff" stroke="#2a2a2a" stroke-width="0.9" />
<rect x="655.0" y="38.5" width="12.5" height="6.0" fill="#fff" stroke="#2a2a2a" stroke-width="0.9" />
<rect x="786.5" y="40.5" width="12.5" height="6.0" fill="#fff" stroke="#2a2a2a" stroke-width="0.9" />
<rect x="787.7" y="41.7" width="10.1" height="3.6" fill="#555" stroke="none" stroke-width="0" />
<rect x="655.0" y="64.3" width="12.5" height="6.0" fill="#fff" stroke="#2a2a2a" stroke-width="0.9" />
<rect x="656.2" y="65.5" width="10.1" height="3.6" fill="#555" stroke="none" stroke-width="0" />
<rect x="786.5" y="66.3" width="12.5" height="6.0" fill="#fff" stroke="#2a2a2a" stroke-width="0.9" />
<rect x="655.0" y="90.2" width="12.5" height="6.0" fill="#fff" stroke="#2a2a2a" stroke-width="0.9" />
<rect x="786.5" y="92.2" width="12.5" height="6.0" fill="#fff" stroke="#2a2a2a" stroke-width="0.9" />
<rect x="787.7" y="93.4" width="10.1" height="3.6" fill="#555" stroke="none" stroke-width="0" />
<rect x="655.0" y="116.0" width="12.5" height="6.0" fill="#fff" stroke="#2a2a2a" stroke-width="0.9" />
<rect x="656.2" y="117.2" width="10.1" height="3.6" fill="#555" stroke="none" stroke-width="0" />
<rect x="786.5" y="118.0" width="12.5" height="6.0" fill="#fff" stroke="#2a2a2a" stroke-width="0.9" />
<rect x="655.0" y="141.8" width="12.5" height="6.0" fill="#fff" stroke="#2a2a2a" stroke-width="0.9" />
<rect x="786.5" y="143.8" width="12.5" height="6.0" fill="#fff" stroke="#2a2a2a" stroke-width="0.9" />
<rect x="787.7" y="145.0" width="10.1" height="3.6" fill="#555" stroke="none" stroke-width="0" />
<rect x="655.0" y="167.7" width="12.5" height="6.0" fill="#fff" stroke="#2a2a2a" stroke-width="0.9" />
<rect x="656.2" y="168.9" width="10.1" height="3.6" fill="#555" stroke="none" stroke-width="0" />
<rect x="786.5" y="169.7" width="12.5" height="6.0" fill="#fff" stroke="#2a2a2a" stroke-width="0.9" />
<rect x="655.0" y="193.6" width="12.5" height="6.0" fill="#fff" stroke="#2a2a2a" stroke-width="0.9" />
<rect x="786.5" y="195.6" width="12.5" height="6.0" fill="#fff" stroke="#2a2a2a" stroke-width="0.9" />
<rect x="787.7" y="196.8" width="10.1" height="3.6" fill="#555" stroke="none" stroke-width="0" />
<rect x="655.0" y="219.4" width="12.5" height="6.0" fill="#fff" stroke="#2a2a2a" stroke-width="0.9" />
<rect x="656.2" y="220.6" width="10.1" height="3.6" fill="#555" stroke="none" stroke-width="0" />
<rect x="786.5" y="221.4" width="12.5" height="6.0" fill="#fff" stroke="#2a2a2a" stroke-width="0.9" />
<rect x="655.0" y="245.2" width="12.5" height="6.0" fill="#fff" stroke="#2a2a2a" stroke-width="0.9" />
<rect x="786.5" y="247.2" width="12.5" height="6.0" fill="#fff" stroke="#2a2a2a" stroke-width="0.9" />
<rect x="787.7" y="248.4" width="10.1" height="3.6" fill="#555" stroke="none" stroke-width="0" />
<rect x="655.0" y="271.1" width="12.5" height="6.0" fill="#fff" stroke="#2a2a2a" stroke-width="0.9" />
<rect x="656.2" y="272.3" width="10.1" height="3.6" fill="#555" stroke="none" stroke-width="0" />
<rect x="786.5" y="273.1" width="12.5" height="6.0" fill="#fff" stroke="#2a2a2a" stroke-width="0.9" />
<rect x="655.0" y="297.0" width="12.5" height="6.0" fill="#fff" stroke="#2a2a2a" stroke-width="0.9" />
<rect x="786.5" y="299.0" width="12.5" height="6.0" fill="#fff" stroke="#2a2a2a" stroke-width="0.9" />
<rect x="787.7" y="300.2" width="10.1" height="3.6" fill="#555" stroke="none" stroke-width="0" />
<rect x="655.0" y="322.8" width="12.5" height="6.0" fill="#fff" stroke="#2a2a2a" stroke-width="0.9" />
<rect x="656.2" y="324.0" width="10.1" height="3.6" fill="#555" stroke="none" stroke-width="0" />
<rect x="786.5" y="324.8" width="12.5" height="6.0" fill="#fff" stroke="#2a2a2a" stroke-width="0.9" />
<rect x="655.0" y="348.7" width="12.5" height="6.0" fill="#fff" stroke="#2a2a2a" stroke-width="0.9" />
<rect x="786.5" y="350.7" width="12.5" height="6.0" fill="#fff" stroke="#2a2a2a" stroke-width="0.9" />
<rect x="787.7" y="351.9" width="10.1" height="3.6" fill="#555" stroke="none" stroke-width="0" />
<rect x="655.0" y="374.5" width="12.5" height="6.0" fill="#fff" stroke="#2a2a2a" stroke-width="0.9" />
<rect x="656.2" y="375.7" width="10.1" height="3.6" fill="#555" stroke="none" stroke-width="0" />
<rect x="655.0" y="400.4" width="12.5" height="6.0" fill="#fff" stroke="#2a2a2a" stroke-width="0.9" />
<polyline points="785.5,30.0 791.0,34.0 785.5,39.0" fill="none" stroke="#333" stroke-width="0.5" />
<polyline points="785.5,82.0 791.0,86.0 785.5,91.0" fill="none" stroke="#333" stroke-width="0.5" />
<polyline points="785.5,134.0 791.0,138.0 785.5,143.0" fill="none" stroke="#333" stroke-width="0.5" />
<polyline points="785.5,186.0 791.0,190.0 785.5,195.0" fill="none" stroke="#333" stroke-width="0.5" />
<polyline points="785.5,238.0 791.0,242.0 785.5,247.0" fill="none" stroke="#333" stroke-width="0.5" />
<polyline points="785.5,300.0 791.0,304.0 785.5,309.0" fill="none" stroke="#333" stroke-width="0.5" />
<polyline points="785.5,352.0 791.0,356.0 785.5,361.0" fill="none" stroke="#333" stroke-width="0.5" />
<polyline points="670.5,28.0 665.0,32.0 670.5,37.0" fill="none" stroke="#333" stroke-width="0.5" />
<polyline points="670.5,55.0 665.0,59.0 670.5,64.0" fill="none" stroke="#333" stroke-width="0.5" />
<polyline points="670.5,106.0 665.0,110.0 670.5,115.0" fill="none" stroke="#333" stroke-width="0.5" />
<polyline points="670.5,132.0 665.0,136.0 670.5,141.0" fill="none" stroke="#333" stroke-width="0.5" />
<polyline points="670.5,184.0 665.0,188.0 670.5,193.0" fill="none" stroke="#333" stroke-width="0.5" />
<polyline points="670.5,210.0 665.0,214.0 670.5,219.0" fill="none" stroke="#333" stroke-width="0.5" />
<polyline points="670.5,262.0 665.0,266.0 670.5,271.0" fill="none" stroke="#333" stroke-width="0.5" />
<polyline points="670.5,340.0 665.0,344.0 670.5,349.0" fill="none" stroke="#333" stroke-width="0.5" />
<polyline points="670.5,392.0 665.0,396.0 670.5,401.0" fill="none" stroke="#333" stroke-width="0.5" />
</g>
<polygon points="867.8,742.2 844.7,780.6 836.8,790.8 824.9,790.8 824.9,848.5 931.0,848.5 963.4,808.0 923.5,777.9 920.5,781.9" fill="#c5507f" stroke="none" stroke-width="0" />
<g clip-path="url(#c3)"><g transform="translate(562.4,32.5) rotate(37)">
<polygon points="737.0,173.0 783.0,173.0 783.0,224.0 756.0,224.0 756.0,204.0 737.0,204.0" fill="#fff" stroke="none" stroke-width="0" fill-opacity="0.37"/>
<polygon points="737.0,225.0 785.0,225.0 785.0,273.0 737.0,273.0" fill="#fff" stroke="none" stroke-width="0" fill-opacity="0.37"/>
</g></g>
<polyline points="822.0,848.5 822.0,788.0 825.5,782.0" fill="none" stroke="#2a2a2a" stroke-width="0.9" />
<line x1="824.2" y1="792.0" x2="824.2" y2="848.0" stroke="#555" stroke-width="0.7" stroke-dasharray="1.2 1.2"/>
<polygon points="825.5,776.6 831.7,778.3 835.1,774.9 843.0,780.6 836.8,789.5 826.0,789.5 828.3,785.1 825.5,781.7" fill="#fff" stroke="#2a2a2a" stroke-width="0.9" />
<line x1="835.1" y1="769.6" x2="842.5" y2="775.2" stroke="#2a2a2a" stroke-width="2.2" />
<polyline points="831.5,773.5 835.1,769.6" fill="none" stroke="#2a2a2a" stroke-width="0.9" />
<polyline points="826.2,848.7 931.0,848.7" fill="none" stroke="#2a2a2a" stroke-width="0.8" />
<polyline points="930.0,846.0 934.0,850.0 940.0,852.0 936.0,858.0 921.0,858.0 921.0,849.0" fill="#fff" stroke="#2a2a2a" stroke-width="0.9" />
<rect x="822.0" y="849.0" width="6.0" height="13.0" fill="#fff" stroke="#2a2a2a" stroke-width="0.9" />
<rect x="870.5" y="849.0" width="6.0" height="13.0" fill="#fff" stroke="#2a2a2a" stroke-width="0.9" />
<rect x="871.5" y="849.0" width="4.0" height="4.0" fill="#444" stroke="none" stroke-width="0" />
<polyline points="873.4,848.0 873.4,793.6 884.0,780.0" fill="none" stroke="#fff" stroke-width="1.1" stroke-dasharray="4 1.5"/>
<polyline points="872.3,848.0 872.3,793.6" fill="none" stroke="#7a2f4f" stroke-width="0.35" />
<polyline points="845.0,849.0 852.0,853.5 859.0,849.0" fill="#fff" stroke="#333" stroke-width="0.6" />
<polyline points="892.0,849.0 899.0,853.5 906.0,849.0" fill="#fff" stroke="#333" stroke-width="0.6" />
<polyline points="906.0,818.0 913.0,805.0 915.0,806.0" fill="none" stroke="#fff" stroke-width="1.2" />
<rect x="848.0" y="824.0" width="3.5" height="3.5" fill="none" stroke="#4a1a30" stroke-width="0.6" />
<g transform="translate(562.4,32.5) rotate(37)">
<polyline points="683.0,395.0 683.0,470.0" fill="none" stroke="#7a2f4f" stroke-width="0.5" />
<polyline points="680.0,398.0 775.0,398.0" fill="none" stroke="#7a2f4f" stroke-width="0.0" />
<line x1="700.0" y1="402.0" x2="722.0" y2="402.0" stroke="#3a1626" stroke-width="0.7" />
<line x1="700.0" y1="402.0" x2="700.0" y2="412.0" stroke="#3a1626" stroke-width="0.7" />
<line x1="722.0" y1="402.0" x2="722.0" y2="412.0" stroke="#3a1626" stroke-width="0.7" />
<line x1="706.0" y1="418.0" x2="728.0" y2="418.0" stroke="#3a1626" stroke-width="0.7" />
<line x1="706.0" y1="418.0" x2="706.0" y2="428.0" stroke="#3a1626" stroke-width="0.7" />
<line x1="728.0" y1="418.0" x2="728.0" y2="428.0" stroke="#3a1626" stroke-width="0.7" />
<line x1="746.0" y1="385.0" x2="768.0" y2="385.0" stroke="#3a1626" stroke-width="0.7" />
<line x1="746.0" y1="385.0" x2="746.0" y2="395.0" stroke="#3a1626" stroke-width="0.7" />
<line x1="768.0" y1="385.0" x2="768.0" y2="395.0" stroke="#3a1626" stroke-width="0.7" />
<line x1="737.0" y1="383.0" x2="737.0" y2="403.0" stroke="#fff" stroke-width="1.2" />
<line x1="737.0" y1="403.0" x2="745.0" y2="403.0" stroke="#fff" stroke-width="0.0" />
</g>
<g transform="translate(562.4,32.5) rotate(37)">
<polyline points="553.6,-1 552.6,-17.8 619.4,-18.5 619.6,91.9 549.5,89.8" fill="none" stroke="#f0463c" stroke-width="1.6" stroke-linejoin="miter"/>
<line x1="553.8" y1="-2.0" x2="553.4" y2="84.0" stroke="#f0463c" stroke-width="2.6" stroke-opacity="0.72"/>
<line x1="548.0" y1="89.8" x2="620.5" y2="91.9" stroke="#f0463c" stroke-width="3.2" />
</g>
<path d="M1138.6,305.6 L1140.6,308.4 L1079.5,358.3 L1080.7,364.8 L1058.3,365.9 L1067.9,344.2 L1074,349.8 Z" fill="#f2453d"/>
<line x1="898.5" y1="225.0" x2="853.5" y2="283.7" stroke="#c8436e" stroke-width="0.7" />
<circle cx="853.5" cy="283.7" r="2.6" fill="#c8436e"/>
<line x1="906.1" y1="498.4" x2="877.5" y2="532.5" stroke="#222" stroke-width="0.7" />
<circle cx="906.1" cy="498.4" r="3.6" fill="#151515"/>
<text x="615.5" y="22.9" class="u" >РВ-1</text>
<text x="615.5" y="34.9" class="u" >59,7 м²</text>
<text x="504.0" y="61.9" class="u" >РВ-6</text>
<text x="504.0" y="74.9" class="u" >37,0 м²</text>
<text x="680.0" y="75.9" class="u" >РВ-2</text>
<text x="680.0" y="88.9" class="u" >29,6 м²</text>
<text x="450.0" y="124.4" class="u" >РВ-5</text>
<text x="450.0" y="137.4" class="u" >75,5 м²</text>
<text x="742.5" y="122.4" class="u" >РВ-3</text>
<text x="742.5" y="135.9" class="u" >24,5 м²</text>
<text x="787.5" y="144.9" class="u" >РВ-4</text>
<text x="787.5" y="158.4" class="u" >88,1 м²</text>
<text x="844.0" y="190.9" class="u" >РС1-1</text>
<text x="844.0" y="204.4" class="u" >297,7 м²</text>
<text x="940.5" y="264.9" class="u" >РС1-2</text>
<text x="940.5" y="278.4" class="u" >291,9 м²</text>
<text x="998.0" y="314.4" class="u" >РС1-3</text>
<text x="998.0" y="327.9" class="u" >123,1 м²</text>
<text x="1050.5" y="354.9" class="u" >РС1-4</text>
<text x="1050.5" y="368.4" class="u" >72,7 м²</text>
<text x="347.5" y="516.4" class="u" >РА-5</text>
<text x="347.5" y="528.9" class="u" >29,0 м²</text>
<text x="347.5" y="557.4" class="u" >РА-4</text>
<text x="347.5" y="569.9" class="u" >91,5 м²</text>
<text x="347.5" y="695.9" class="u" >РА-3</text>
<text x="347.5" y="707.9" class="u" >21,3 м²</text>
<text x="347.5" y="735.9" class="u" >РА-2</text>
<text x="347.5" y="748.4" class="u" >100,0 м²</text>
<text x="402.5" y="869.9" class="u" >РА-1</text>
<text x="402.5" y="883.4" class="u" >56,9 м²</text>
<text x="447.5" y="869.9" class="u" >РА-7</text>
<text x="447.5" y="883.4" class="u" >52,0 м²</text>
<text x="486.5" y="869.9" class="u" >РА-6</text>
<text x="486.5" y="883.4" class="u" >49,1 м²</text>
<text x="751.8" y="872.7" class="u" >РД-1</text>
<text x="751.8" y="886.2" class="u" >28,1 м²</text>
<text x="751.8" y="899.2" class="u" >Кафе</text>
<text x="852.8" y="870.2" class="u" >РС-1</text>
<text x="852.8" y="883.7" class="u" >81,2 м²</text>
<text x="899.4" y="872.1" class="u" >РС-2</text>
<text x="899.4" y="885.0" class="u" >78,2 м²</text>
<text x="914.0" y="548.4" class="u" >РС1-5</text>
<text x="914.0" y="561.4" class="u" >300,3 м²</text>
<text x="1202.0" y="544.9" class="u" fill="#444" stroke="#444">РС-9</text>
<text x="1202.0" y="557.4" class="u" fill="#444" stroke="#444">116,2 м²</text>
<text x="1202.0" y="570.4" class="u" fill="#444" stroke="#444">Кафе</text>
<text x="1164.0" y="590.9" class="u" >РС-8</text>
<text x="1164.0" y="603.9" class="u" >88,8 м²</text>
<text x="1131.5" y="628.4" class="u" >РС-7</text>
<text x="1131.5" y="641.4" class="u" >20,8 м²</text>
<text x="1099.0" y="676.4" class="u" fill="#666" stroke="#666">РС-6</text>
<text x="1099.0" y="689.9" class="u" fill="#666" stroke="#666">32,7 м²</text>
<text x="1075.5" y="707.9" class="u" >РС-5</text>
<text x="1075.5" y="720.9" class="u" >34,3 м²</text>
<text x="1028.5" y="767.4" class="u" >РС-4</text>
<text x="1028.5" y="780.9" class="u" >20,6 м²</text>
<text x="1004.5" y="797.4" class="u" >РС-3</text>
<text x="1004.5" y="810.4" class="u" >35,8 м²</text>
<text x="904.5" y="208.0" class="m" textLength="86" lengthAdjust="spacingAndGlyphs">Выделенная</text>
<text x="904.5" y="224.5" class="m" textLength="96" lengthAdjust="spacingAndGlyphs">зона загрузки</text>
<text x="487.5" y="293.5" class="m" textLength="89" lengthAdjust="spacingAndGlyphs">Вход в лобби</text>
<polygon points="545.5,269.0 555.0,271.0 552.5,277.5" fill="#111" stroke="none" stroke-width="0" />
<text x="525.0" y="638.5" class="m" textLength="89" lengthAdjust="spacingAndGlyphs"><tspan fill="#555" stroke="#555">Вход в</tspan> лобби</text>
<polygon points="503.0,633.5 510.0,628.5 510.0,638.5" fill="#111" stroke="none" stroke-width="0" />
<text x="857.5" y="596.0" class="m" textLength="88" lengthAdjust="spacingAndGlyphs">Вхо<tspan fill="#666" stroke="#666">д в лобби</tspan></text>
<polygon points="946.5,597.0 952.0,590.5 953.0,597.5" fill="#444" stroke="none" stroke-width="0" />
<text x="755.0" y="533.5" class="m" textLength="117" lengthAdjust="spacingAndGlyphs">3-уровневый лот</text>
<text x="631.5" y="877.3" class="m" textLength="87.5" lengthAdjust="spacingAndGlyphs" style="font-size:13px">Гранд-лобби</text>
<text x="591.5" y="552.8" class="m" textLength="150" lengthAdjust="spacingAndGlyphs" style="font-size:13px;fill:#a82c5f;stroke:#a82c5f">БЛАГОУСТРОЕННЫЙ</text>
<text x="668.5" y="569.8" class="m" text-anchor="middle" textLength="44" lengthAdjust="spacingAndGlyphs" style="font-size:13px;fill:#a82c5f;stroke:#a82c5f">ДВОР</text>
<text x="357.5" y="449.8" class="m" style="font-size:17.5px;font-weight:700;stroke:none" textLength="12.5" lengthAdjust="spacingAndGlyphs">P</text>
<rect x="1007.4" y="29.0" width="202.1" height="43.5" rx="8" fill="#fff" stroke="#a8455f" stroke-width="1"/>
<text x="1027.4" y="61.8" class="big" style="font-size:25.5px" textLength="165.7" lengthAdjust="spacingAndGlyphs">ЖК «Символ»</text>
<rect x="1248.9" y="80.2" width="303.4" height="44.1" rx="8" fill="#fff" stroke="#a8455f" stroke-width="1"/>
<text x="1263.3" y="111.2" class="big" style="font-size:25.5px" textLength="274.0" lengthAdjust="spacingAndGlyphs">Парк «Зеленая река»</text>
<rect x="1075.2" y="736.0" width="481.7" height="44.0" rx="8" fill="#fff" stroke="#a8455f" stroke-width="1"/>
<text x="1092.8" y="767.2" class="big" style="font-size:25.5px" textLength="448.2" lengthAdjust="spacingAndGlyphs">Центральная площадь с фонтаном</text>
<rect x="1555.0" y="808.0" width="201.4" height="43.1" rx="8" fill="#fff" stroke="#a8455f" stroke-width="1"/>
<text x="1575.7" y="840.0" class="big" style="font-size:25.5px" textLength="163.9" lengthAdjust="spacingAndGlyphs">ЖК «Символ»</text>
<rect x="377.6" y="894.3" width="192.5" height="28.3" rx="5" fill="#fff" stroke="#a8455f" stroke-width="0.9"/>
<text x="388.5" y="914.2" class="big" style="font-size:17.5px" textLength="170" lengthAdjust="spacingAndGlyphs">Пешеходная аллея</text>
<rect x="87.4" y="349.2" width="49.9" height="359.5" rx="9" fill="#fff" stroke="#a8455f" stroke-width="1"/>
<text transform="translate(122.3,692.5) rotate(-90)" x="0" y="0" class="big" style="font-size:28px" textLength="326.5" lengthAdjust="spacingAndGlyphs">Ул. Золоторожский Вал</text>
<polygon points="22.1,783.0 56.8,783.0 49.7,804.2 15.0,804.2" fill="#3fb08a" stroke="none" stroke-width="0" />
<polygon points="64.5,783.0 99.2,783.0 92.0,804.2 57.4,804.2" fill="#de4a80" stroke="none" stroke-width="0" />
<text x="35.9" y="798.6" text-anchor="middle" style="font-size:13.5px;font-weight:700;fill:#fff" textLength="21" lengthAdjust="spacingAndGlyphs">D4</text>
<text x="78.3" y="798.6" text-anchor="middle" style="font-size:13.5px;font-weight:700;fill:#fff" textLength="21" lengthAdjust="spacingAndGlyphs">D2</text>
<text x="108.8" y="799.4" style="font-size:15.4px;font-weight:700;fill:#111" textLength="193.5" lengthAdjust="spacingAndGlyphs">ТПУ «СЕРП И МОЛОТ»</text>
<circle cx="27.9" cy="830.8" r="13.5" fill="#d8d32b"/>
<circle cx="27" cy="860.6" r="13.5" fill="#8dba3d"/>
<text x="27.9" y="836.2" text-anchor="middle" style="font-size:14.5px;font-weight:700;fill:#fff" textLength="14" lengthAdjust="spacingAndGlyphs">М</text>
<text x="27" y="866" text-anchor="middle" style="font-size:14.5px;font-weight:700;fill:#fff" textLength="14" lengthAdjust="spacingAndGlyphs">М</text>
<text x="50.4" y="837.4" style="font-size:16px;font-weight:700;fill:#111" textLength="87.8" lengthAdjust="spacingAndGlyphs">РИМСКАЯ</text>
<text x="50.4" y="867.4" style="font-size:16px;font-weight:700;fill:#111" textLength="171.4" lengthAdjust="spacingAndGlyphs">ПЛОЩАДЬ ИЛЬИЧА</text>
<path d="M54.5,879 V906.5 M49.8,901.5 L54.5,907 L59.2,901.5" fill="none" stroke="#222" stroke-width="1.1"/>
</svg>
</body></html>
